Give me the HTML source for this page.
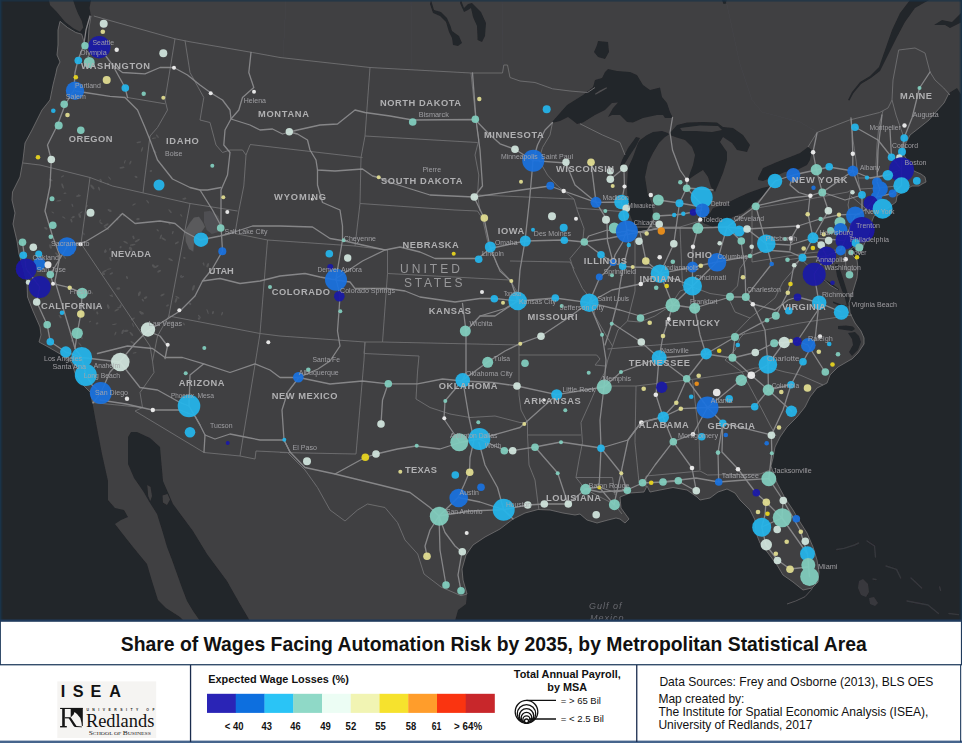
<!DOCTYPE html>
<html><head><meta charset="utf-8"><title>Share of Wages Facing Automation Risk by 2035</title>
<style>
html,body{margin:0;padding:0;background:#fff}
body{width:962px;height:743px;overflow:hidden}
svg{display:block;font-family:"Liberation Sans",sans-serif}
.st{font-weight:bold;fill:#b0b0b2;font-size:9.3px}
.ct{fill:#a6a6aa;font-size:7.3px;opacity:.92}
.b{font-weight:bold}
</style></head><body>
<svg width="962" height="743" viewBox="0 0 962 743">
<defs><clipPath id="mc"><rect x="0" y="0" width="962" height="621"/></clipPath><filter id="sf" x="0" y="0" width="962" height="621" filterUnits="userSpaceOnUse"><feGaussianBlur stdDeviation="0.5"/></filter></defs>
<rect x="0" y="0" width="962" height="743" fill="#fff"/>
<g clip-path="url(#mc)"><rect x="0" y="0" width="962" height="621" fill="#232529"/><polygon points="91,0 962,0 962,96 957,88 949,93 944,103 935,113 929,120 919,128 910,135 905,145 904,155 909,163 914,171 921,174 925,177 926,182 922,184 919,186 912,186 905,190 897,196 896,202 888,208 878,213 874,216 872,221 869,232 866,240 863,247 860,254 857,252 854,247 851,249 853,256 857,260 858,268 857,278 853,291 849,303 850,313 855,323 861,331 864,338 864,344 858,353 852,359 850,360 838,367 830,375 827,383 817,388 810,397 805,407 797,417 787,427 780,437 775,447 773,458 771,466 773,472 777,483 785,498 793,510 800,522 807,533 813,547 817,560 819,572 818,582 812,588 803,590 798,586 793,582 783,575 777,565 768,553 760,543 756,533 755,520 750,510 740,500 735,493 727,489 718,492 710,498 700,500 697,497 687,490 673,487.5 660,490 650,492 647,486 644,492 630,493 620,497 621,508 626,515 629,519 625,523 620,519 616,518 608,520 597,523 587,520 580,514 575,515 563,513 550,510 538,509.5 525,513 513,519 500,529 485,537 473,545 466,555 462,569 463,580 467,594 466,604 458,610 455,621 250,621 240,604 227,581 207,554 193,531 173,504 163,481 160,447 150,438 137,432 131,432 128,437 128,464 134,478 143,491 150,503 157,514 162,530 167,547 172,560 177,574 182,588 187,601 193,611 200,621 184,621 180,617 166,608 158,600 152,581 147,564 133,547 122,533 115,524 121,520 128,517 124,510 115,508 108,500 108,481 102,454 98,433 95,417 92.5,403 91,393 83,385 75,373 72,363 62,355 50,348 39,342 41,335 40,327 33,311 27.5,297 27,282 22,264 19,254 17,241 13,224 15,213 12,200 12.5,192 20,177 23,160 25,143 32,130 42,110 50,100 53,85 56,73 57,68 60,62 57,55 58,45 58,30 60,21.3 67.5,27.5 75.8,32.5 81.7,34.2 83.5,40 86,48 88,44 88.5,36 89,28 91,16 89.5,8" fill="#404042"/><g filter="url(#sf)">
<rect x="0" y="0" width="962" height="621" fill="#232529"/>
<g id="land">
<polygon points="91,0 962,0 962,96 957,88 949,93 944,103 935,113 929,120 919,128 910,135 905,145 904,155 909,163 914,171 921,174 925,177 926,182 922,184 919,186 912,186 905,190 897,196 896,202 888,208 878,213 874,216 872,221 869,232 866,240 863,247 860,254 857,252 854,247 851,249 853,256 857,260 858,268 857,278 853,291 849,303 850,313 855,323 861,331 864,338 864,344 858,353 852,359 850,360 838,367 830,375 827,383 817,388 810,397 805,407 797,417 787,427 780,437 775,447 773,458 771,466 773,472 777,483 785,498 793,510 800,522 807,533 813,547 817,560 819,572 818,582 812,588 803,590 798,586 793,582 783,575 777,565 768,553 760,543 756,533 755,520 750,510 740,500 735,493 727,489 718,492 710,498 700,500 697,497 687,490 673,487.5 660,490 650,492 647,486 644,492 630,493 620,497 621,508 626,515 629,519 625,523 620,519 616,518 608,520 597,523 587,520 580,514 575,515 563,513 550,510 538,509.5 525,513 513,519 500,529 485,537 473,545 466,555 462,569 463,580 467,594 466,604 458,610 455,621 250,621 240,604 227,581 207,554 193,531 173,504 163,481 160,447 150,438 137,432 131,432 128,437 128,464 134,478 143,491 150,503 157,514 162,530 167,547 172,560 177,574 182,588 187,601 193,611 200,621 184,621 180,617 166,608 158,600 152,581 147,564 133,547 122,533 115,524 121,520 128,517 124,510 115,508 108,500 108,481 102,454 98,433 95,417 92.5,403 91,393 83,385 75,373 72,363 62,355 50,348 39,342 41,335 40,327 33,311 27.5,297 27,282 22,264 19,254 17,241 13,224 15,213 12,200 12.5,192 20,177 23,160 25,143 32,130 42,110 50,100 53,85 56,73 57,68 60,62 57,55 58,45 58,30 60,21.3 67.5,27.5 75.8,32.5 81.7,34.2 83.5,40 86,48 88,44 88.5,36 89,28 91,16 89.5,8" fill="#404042" />
<polygon points="49,0 50,5 56.7,11.7 65,21.7 73.3,28.3 80,31.7 83.3,27.5 81.7,20.8 78.3,14.2 75.8,8.3 73,0" fill="#404042" />
<polygon points="859,581 863,579 868,584 869,592 866,597 861,595 858,588" fill="#38393d" />
<polygon points="869,598 874,597 878,603 875,606 870,604" fill="#38393d" />
<g fill="none" stroke="#36383d" stroke-width="1.4" stroke-linecap="round" stroke-linejoin="round">
<polyline points="836.7,549.5 844,548.4 854.5,545 858.7,543"/>
<polyline points="867,541 874.5,546 875.5,557"/>
<polyline points="886,566 896.5,569.4 900.7,578"/>
<polyline points="911,578 921.7,588"/>
<polyline points="907,601 928,605 938.5,613.5"/>
<polyline points="939.6,587 940.6,590.4"/>
<polyline points="949,613.5 958.5,614.6"/>
<polyline points="873,579 876,579.5"/>
</g>
<polyline points="812.5,588.5 805,596.7 795.7,601 787,604" fill="none" stroke="#5a5a5d" stroke-width=".9"/>
</g><g id="water">
<polygon points="598,41 608,42 609,52 605,59 598,57 594,52 597,45" fill="#232529" />
<polygon points="552,122 567,105 583,95 593,87 595,80 602,78 605,72 608,69 617,71 630,72 637,75 643,85 650,90 660,87.5 662,97 667,103 670,112 673,118 665,118 663,115 657,115 643,118 633,122.5 627,122 620,115 612,115 608,117 613,108 618,102.5 612,103 605,110 595,115 583,122.5 577,124 572,120 568,117 560,121 552,123" fill="#232529" />
<polygon points="668,133 662,131 653,132 647,135 640,140 638,143 633,157 628,168 627,185 627.5,202 630,215 633.8,225 637,231 640.5,233.5 645.5,231.5 650,225 653,212.5 651.5,203 647.5,193 645,177 648,163 653,153 659,143 665,137 669,134.5" fill="#232529" />
<polygon points="640,138 636,137 628,148 622,160 620,166 624,165 630,155 636,146" fill="#232529" />
<polygon points="670,133 677,125 687,122.5 703,122 717,122.5 723,127 733,128 743,135 750,145 747,152 737,150 732,143 723,137 720,142 727,152 727,160 723,173 718,185 715,192 711,187 708,177 703,170 695,175 688,180 690,173 693,165 695,155 692,147 685,140 675,137 670,135" fill="#232529" />
<polygon points="702,218 710,213 713,208 723,205 737,198 748,193 762,188 771,186 767,192 755,203 747,210 743,213 733,217 720,225 713,227 703,223" fill="#232529" />
<polygon points="758,178 763,168 777,162 790,157 800,153 808,147 812,150 810,160 807,165 797,170 785,172 773,177 763,181 758,180" fill="#232529" />
<polygon points="461,0 464,8 468,4 472,3 481,12 486,23 485,36 482,42 477.6,40 477,26 473,17 471,8 468,10 464,12 460,3" fill="#232529" />
<polygon points="431,0 434,10 441,12 447,18 450.5,26 452,31 459,36 462,43 458,46 453,45 452,38 449,32 446,22 440,16 433,13 430,4" fill="#232529" />
<polygon points="910,0 900,13 892,30 885,50 879,67 870,76 860,82 852,92 848,100 849.5,100.5 853.5,93 861,84 871,78 880,71 882,67 889,53 897,37 905,22 915,8 929,0" fill="#232529" />
<polygon points="722,0 727,0 726.5,3.5 723.5,4" fill="#232529" />
<polygon points="962,12 952,22 942,20 934,25 945,25 950,28 962,22" fill="#232529" />
<polygon points="835,264 838,264 842,275 846,288 849,298 850.5,305 847,306.5 845,298 841,288 837,276" fill="#232529" />
<polygon points="822,280 830,285 838,291 839,289 831,283 823,278.5" fill="#232529" />
<polygon points="833,303 840,306 846,307.5 846.5,305.5 840,304 833,301.5" fill="#232529" />
<polygon points="850,247 853,246 857,251 858,257 855,256 852,251" fill="#232529" />
<polygon points="838,326 846,325.5 853,326.5 855,329 852,331 845,330 838,329" fill="#232529" />
<polygon points="848,333 855,332 859,336 861,342 858,350 852,356 849,352 853,345 852,339" fill="#232529" />
<polygon points="680,128 700,125.5 718,126 722,130 712,132 695,131 682,131" fill="#404042" />
<polygon points="595,93.8 600,90.5 606.5,87.3 607,88.3 601,91.8 595.6,94.8" fill="#505052" />
<polygon points="147.3,485 150.5,487 152,496 150.3,501 148.2,496" fill="#404042" />
<polygon points="162.5,495.5 167.5,494 170,499.5 167,505 163,502.5" fill="#404042" />
</g>
<polygon points="185,230.8 190,222.5 194,217.5 199,216.7 203,222.5 205,226.7 201.7,231.7 197,233.5 195,234 194,241.7 193.3,251.7 189,249 185.8,241.7 185,232.5" fill="#5a5a5c" />
<polygon points="204,211.7 210,210.8 218.3,215.8 220.8,222.5 219,231.7 211.7,234 206.7,230 204,222.5" fill="#4f4f52" />
<g fill="#555557">
<ellipse cx="124.1" cy="215.4" rx="1.0" ry="1.3" transform="rotate(60 124.1 215.4)"/>
<ellipse cx="103.5" cy="273.7" rx="1.1" ry="1.6" transform="rotate(-60 103.5 273.7)"/>
<ellipse cx="134.0" cy="204.4" rx="0.7" ry="2.0" transform="rotate(60 134.0 204.4)"/>
<ellipse cx="106.1" cy="225.1" rx="1.0" ry="2.9" transform="rotate(60 106.1 225.1)"/>
<ellipse cx="147.7" cy="201.7" rx="0.7" ry="2.2" transform="rotate(-40 147.7 201.7)"/>
<ellipse cx="121.1" cy="214.5" rx="0.7" ry="1.8" transform="rotate(80 121.1 214.5)"/>
<ellipse cx="111.3" cy="273.5" rx="1.0" ry="1.9" transform="rotate(60 111.3 273.5)"/>
<ellipse cx="159.1" cy="271.2" rx="1.0" ry="2.1" transform="rotate(60 159.1 271.2)"/>
<ellipse cx="133.5" cy="237.4" rx="1.0" ry="2.0" transform="rotate(-20 133.5 237.4)"/>
<ellipse cx="117.4" cy="219.3" rx="1.1" ry="1.3" transform="rotate(-20 117.4 219.3)"/>
<ellipse cx="142.3" cy="313.1" rx="1.0" ry="1.7" transform="rotate(-60 142.3 313.1)"/>
<ellipse cx="105.6" cy="251.4" rx="1.1" ry="1.5" transform="rotate(20 105.6 251.4)"/>
<ellipse cx="133.0" cy="324.9" rx="0.6" ry="2.2" transform="rotate(-20 133.0 324.9)"/>
<ellipse cx="125.6" cy="242.3" rx="0.9" ry="2.6" transform="rotate(-60 125.6 242.3)"/>
<ellipse cx="170.6" cy="322.5" rx="0.9" ry="2.4" transform="rotate(-60 170.6 322.5)"/>
<ellipse cx="160.8" cy="236.8" rx="0.9" ry="2.4" transform="rotate(20 160.8 236.8)"/>
<ellipse cx="120.6" cy="247.1" rx="1.0" ry="1.2" transform="rotate(20 120.6 247.1)"/>
<ellipse cx="127.0" cy="277.5" rx="0.9" ry="1.6" transform="rotate(-20 127.0 277.5)"/>
<ellipse cx="106.6" cy="228.4" rx="0.8" ry="2.8" transform="rotate(-60 106.6 228.4)"/>
<ellipse cx="110.0" cy="249.2" rx="0.8" ry="1.4" transform="rotate(20 110.0 249.2)"/>
<ellipse cx="172.8" cy="232.6" rx="0.8" ry="1.8" transform="rotate(20 172.8 232.6)"/>
<ellipse cx="181.2" cy="215.4" rx="0.7" ry="1.6" transform="rotate(-40 181.2 215.4)"/>
<ellipse cx="96.1" cy="307.2" rx="0.7" ry="1.7" transform="rotate(-40 96.1 307.2)"/>
<ellipse cx="132.7" cy="244.8" rx="0.9" ry="2.9" transform="rotate(80 132.7 244.8)"/>
<ellipse cx="172.3" cy="323.3" rx="1.0" ry="2.5" transform="rotate(20 172.3 323.3)"/>
<ellipse cx="176.0" cy="300.3" rx="1.1" ry="2.6" transform="rotate(20 176.0 300.3)"/>
<ellipse cx="130.8" cy="248.2" rx="0.9" ry="1.9" transform="rotate(-40 130.8 248.2)"/>
<ellipse cx="101.1" cy="223.2" rx="0.7" ry="1.8" transform="rotate(-60 101.1 223.2)"/>
<ellipse cx="104.2" cy="271.5" rx="0.9" ry="2.9" transform="rotate(60 104.2 271.5)"/>
<ellipse cx="97.3" cy="313.0" rx="1.0" ry="1.5" transform="rotate(-20 97.3 313.0)"/>
<ellipse cx="181.0" cy="276.3" rx="0.9" ry="1.4" transform="rotate(20 181.0 276.3)"/>
<ellipse cx="184.4" cy="257.9" rx="0.9" ry="1.4" transform="rotate(-60 184.4 257.9)"/>
<ellipse cx="162.5" cy="294.9" rx="0.9" ry="2.4" transform="rotate(60 162.5 294.9)"/>
<ellipse cx="97.1" cy="323.4" rx="0.9" ry="1.5" transform="rotate(60 97.1 323.4)"/>
<ellipse cx="177.3" cy="297.3" rx="0.8" ry="2.4" transform="rotate(-60 177.3 297.3)"/>
<ellipse cx="157.7" cy="230.3" rx="0.8" ry="1.5" transform="rotate(-40 157.7 230.3)"/>
<ellipse cx="142.9" cy="300.2" rx="0.8" ry="1.6" transform="rotate(-40 142.9 300.2)"/>
<ellipse cx="167.5" cy="305.5" rx="1.0" ry="1.6" transform="rotate(60 167.5 305.5)"/>
<ellipse cx="139.4" cy="293.7" rx="1.2" ry="2.6" transform="rotate(20 139.4 293.7)"/>
<ellipse cx="118.3" cy="288.5" rx="1.2" ry="2.0" transform="rotate(80 118.3 288.5)"/>
<ellipse cx="183.9" cy="323.9" rx="0.8" ry="1.6" transform="rotate(-40 183.9 323.9)"/>
<ellipse cx="137.3" cy="240.6" rx="0.9" ry="3.0" transform="rotate(60 137.3 240.6)"/>
<ellipse cx="170.6" cy="259.7" rx="1.0" ry="2.6" transform="rotate(-60 170.6 259.7)"/>
<ellipse cx="170.1" cy="211.2" rx="0.8" ry="2.5" transform="rotate(-40 170.1 211.2)"/>
<ellipse cx="138.0" cy="219.1" rx="1.1" ry="1.8" transform="rotate(80 138.0 219.1)"/>
<ellipse cx="130.6" cy="249.2" rx="1.2" ry="2.5" transform="rotate(-40 130.6 249.2)"/>
<ellipse cx="184.4" cy="198.7" rx="1.0" ry="2.0" transform="rotate(80 184.4 198.7)"/>
<ellipse cx="108.2" cy="306.6" rx="1.2" ry="2.4" transform="rotate(-20 108.2 306.6)"/>
<ellipse cx="109.0" cy="269.0" rx="0.6" ry="2.6" transform="rotate(80 109.0 269.0)"/>
<ellipse cx="153.5" cy="266.1" rx="1.2" ry="2.0" transform="rotate(-40 153.5 266.1)"/>
<ellipse cx="169.4" cy="223.5" rx="0.8" ry="1.7" transform="rotate(-40 169.4 223.5)"/>
<ellipse cx="163.7" cy="239.0" rx="0.9" ry="2.7" transform="rotate(-60 163.7 239.0)"/>
<ellipse cx="176.9" cy="242.8" rx="0.9" ry="2.3" transform="rotate(60 176.9 242.8)"/>
<ellipse cx="132.9" cy="318.9" rx="0.9" ry="2.2" transform="rotate(60 132.9 318.9)"/>
<ellipse cx="140.9" cy="312.8" rx="1.1" ry="2.3" transform="rotate(-40 140.9 312.8)"/>
<ellipse cx="110.5" cy="258.9" rx="1.0" ry="2.2" transform="rotate(-20 110.5 258.9)"/>
<ellipse cx="156.4" cy="266.6" rx="0.9" ry="2.6" transform="rotate(60 156.4 266.6)"/>
<ellipse cx="100.1" cy="220.8" rx="0.6" ry="1.4" transform="rotate(20 100.1 220.8)"/>
<ellipse cx="145.6" cy="297.6" rx="1.1" ry="2.0" transform="rotate(60 145.6 297.6)"/>
<ellipse cx="182.6" cy="276.8" rx="0.7" ry="1.7" transform="rotate(60 182.6 276.8)"/>
<ellipse cx="79.7" cy="215.6" rx="1.2" ry="2.5" transform="rotate(-20 79.7 215.6)"/>
<ellipse cx="105.0" cy="250.9" rx="0.7" ry="2.0" transform="rotate(20 105.0 250.9)"/>
<ellipse cx="52.9" cy="212.6" rx="0.6" ry="1.6" transform="rotate(-60 52.9 212.6)"/>
<ellipse cx="58.8" cy="200.7" rx="0.7" ry="2.6" transform="rotate(80 58.8 200.7)"/>
<ellipse cx="86.8" cy="206.1" rx="0.8" ry="1.4" transform="rotate(20 86.8 206.1)"/>
<ellipse cx="59.3" cy="256.0" rx="0.8" ry="2.1" transform="rotate(80 59.3 256.0)"/>
<ellipse cx="99.1" cy="188.7" rx="0.9" ry="2.1" transform="rotate(-20 99.1 188.7)"/>
<ellipse cx="72.4" cy="205.3" rx="0.7" ry="1.9" transform="rotate(-20 72.4 205.3)"/>
<ellipse cx="81.0" cy="212.4" rx="0.6" ry="1.8" transform="rotate(60 81.0 212.4)"/>
<ellipse cx="64.2" cy="256.7" rx="0.7" ry="2.9" transform="rotate(-40 64.2 256.7)"/>
<ellipse cx="108.2" cy="183.9" rx="0.8" ry="1.3" transform="rotate(-40 108.2 183.9)"/>
<ellipse cx="62.6" cy="186.0" rx="0.9" ry="2.8" transform="rotate(-20 62.6 186.0)"/>
<ellipse cx="71.4" cy="220.6" rx="0.9" ry="2.1" transform="rotate(-20 71.4 220.6)"/>
<ellipse cx="50.8" cy="179.9" rx="1.0" ry="2.0" transform="rotate(-60 50.8 179.9)"/>
<ellipse cx="62.5" cy="176.4" rx="0.7" ry="1.7" transform="rotate(60 62.5 176.4)"/>
<ellipse cx="100.7" cy="180.7" rx="1.1" ry="2.0" transform="rotate(-20 100.7 180.7)"/>
<ellipse cx="109.6" cy="210.5" rx="1.1" ry="2.3" transform="rotate(-60 109.6 210.5)"/>
<ellipse cx="79.2" cy="195.3" rx="0.7" ry="1.5" transform="rotate(-60 79.2 195.3)"/>
<ellipse cx="56.8" cy="254.2" rx="1.0" ry="2.2" transform="rotate(-40 56.8 254.2)"/>
<ellipse cx="63.8" cy="217.5" rx="0.7" ry="1.8" transform="rotate(-60 63.8 217.5)"/>
<ellipse cx="109.6" cy="178.1" rx="0.6" ry="2.1" transform="rotate(-40 109.6 178.1)"/>
<ellipse cx="78.4" cy="195.9" rx="0.9" ry="2.4" transform="rotate(80 78.4 195.9)"/>
<ellipse cx="73.1" cy="217.1" rx="1.1" ry="1.9" transform="rotate(60 73.1 217.1)"/>
<ellipse cx="65.0" cy="193.3" rx="0.7" ry="1.6" transform="rotate(80 65.0 193.3)"/>
<ellipse cx="92.4" cy="186.9" rx="1.2" ry="3.0" transform="rotate(-40 92.4 186.9)"/>
<ellipse cx="45.9" cy="228.2" rx="1.1" ry="2.0" transform="rotate(-60 45.9 228.2)"/>
<ellipse cx="50.5" cy="246.5" rx="1.1" ry="2.4" transform="rotate(-20 50.5 246.5)"/>
<ellipse cx="83.9" cy="233.9" rx="0.6" ry="1.5" transform="rotate(-20 83.9 233.9)"/>
<ellipse cx="95.7" cy="308.4" rx="1.2" ry="3.0" transform="rotate(60 95.7 308.4)"/>
<ellipse cx="85.9" cy="292.4" rx="1.1" ry="1.6" transform="rotate(-40 85.9 292.4)"/>
<ellipse cx="60.1" cy="316.7" rx="0.9" ry="2.1" transform="rotate(-40 60.1 316.7)"/>
<ellipse cx="79.9" cy="344.3" rx="0.7" ry="2.7" transform="rotate(-40 79.9 344.3)"/>
<ellipse cx="92.0" cy="292.9" rx="0.6" ry="1.7" transform="rotate(-40 92.0 292.9)"/>
<ellipse cx="66.8" cy="357.0" rx="1.1" ry="1.5" transform="rotate(80 66.8 357.0)"/>
<ellipse cx="122.7" cy="331.8" rx="1.1" ry="2.5" transform="rotate(20 122.7 331.8)"/>
<ellipse cx="72.0" cy="340.7" rx="1.0" ry="1.3" transform="rotate(80 72.0 340.7)"/>
<ellipse cx="131.4" cy="333.9" rx="1.0" ry="2.7" transform="rotate(-40 131.4 333.9)"/>
<ellipse cx="132.8" cy="342.7" rx="0.9" ry="2.7" transform="rotate(-60 132.8 342.7)"/>
<ellipse cx="126.1" cy="330.9" rx="1.1" ry="2.4" transform="rotate(80 126.1 330.9)"/>
<ellipse cx="111.4" cy="296.0" rx="0.6" ry="2.3" transform="rotate(-60 111.4 296.0)"/>
<ellipse cx="90.1" cy="321.6" rx="0.6" ry="1.2" transform="rotate(60 90.1 321.6)"/>
<ellipse cx="114.5" cy="324.3" rx="0.6" ry="2.6" transform="rotate(80 114.5 324.3)"/>
<ellipse cx="134.6" cy="352.9" rx="0.7" ry="2.1" transform="rotate(80 134.6 352.9)"/>
<ellipse cx="118.9" cy="307.7" rx="0.6" ry="1.7" transform="rotate(80 118.9 307.7)"/>
<ellipse cx="120.5" cy="306.2" rx="1.0" ry="2.0" transform="rotate(20 120.5 306.2)"/>
<ellipse cx="66.1" cy="353.7" rx="0.8" ry="1.3" transform="rotate(80 66.1 353.7)"/>
<ellipse cx="111.4" cy="295.4" rx="0.7" ry="1.7" transform="rotate(80 111.4 295.4)"/>
<ellipse cx="115.4" cy="333.5" rx="0.7" ry="2.1" transform="rotate(20 115.4 333.5)"/>
<ellipse cx="81.5" cy="337.0" rx="1.0" ry="2.4" transform="rotate(-20 81.5 337.0)"/>
<ellipse cx="116.7" cy="310.0" rx="0.9" ry="2.6" transform="rotate(60 116.7 310.0)"/>
<ellipse cx="199.0" cy="318.6" rx="1.2" ry="1.2" transform="rotate(20 199.0 318.6)"/>
<ellipse cx="193.4" cy="287.9" rx="1.2" ry="3.0" transform="rotate(20 193.4 287.9)"/>
<ellipse cx="199.4" cy="316.5" rx="0.7" ry="2.2" transform="rotate(-40 199.4 316.5)"/>
<ellipse cx="223.6" cy="272.0" rx="0.8" ry="2.3" transform="rotate(80 223.6 272.0)"/>
<ellipse cx="212.9" cy="312.6" rx="1.0" ry="1.6" transform="rotate(20 212.9 312.6)"/>
<ellipse cx="207.7" cy="265.3" rx="1.2" ry="2.4" transform="rotate(20 207.7 265.3)"/>
<ellipse cx="203.6" cy="264.1" rx="0.8" ry="1.8" transform="rotate(-20 203.6 264.1)"/>
<ellipse cx="190.1" cy="303.8" rx="1.1" ry="1.4" transform="rotate(-40 190.1 303.8)"/>
<ellipse cx="222.1" cy="313.6" rx="0.8" ry="1.9" transform="rotate(20 222.1 313.6)"/>
<ellipse cx="207.6" cy="311.5" rx="0.6" ry="2.9" transform="rotate(-20 207.6 311.5)"/>
<ellipse cx="154.2" cy="138.2" rx="0.6" ry="2.4" transform="rotate(80 154.2 138.2)"/>
<ellipse cx="157.4" cy="136.2" rx="0.8" ry="2.1" transform="rotate(-40 157.4 136.2)"/>
<ellipse cx="150.9" cy="171.0" rx="0.9" ry="1.3" transform="rotate(80 150.9 171.0)"/>
<ellipse cx="136.0" cy="176.9" rx="0.9" ry="1.6" transform="rotate(-60 136.0 176.9)"/>
<ellipse cx="122.0" cy="167.6" rx="0.9" ry="2.6" transform="rotate(80 122.0 167.6)"/>
<ellipse cx="154.8" cy="151.6" rx="1.1" ry="2.2" transform="rotate(-40 154.8 151.6)"/>
<ellipse cx="138.9" cy="142.3" rx="0.8" ry="2.5" transform="rotate(80 138.9 142.3)"/>
<ellipse cx="130.4" cy="162.6" rx="0.8" ry="2.2" transform="rotate(20 130.4 162.6)"/>
<ellipse cx="124.8" cy="161.8" rx="0.6" ry="2.1" transform="rotate(20 124.8 161.8)"/>
<ellipse cx="142.0" cy="149.4" rx="0.8" ry="2.6" transform="rotate(20 142.0 149.4)"/>
</g>
<g fill="none" stroke="#737375" stroke-width=".8" stroke-linejoin="round">
<polyline points="949,93 944,103 935,113 929,120 919,128 910,135 905,145 904,155 909,163 914,171 921,174 925,177 926,182 922,184 919,186 912,186 905,190 897,196 896,202 888,208 878,213 874,216 872,221 869,232 866,240 863,247 860,254 857,252 854,247 851,249 853,256 857,260 858,268 857,278 853,291 849,303 850,313 855,323 861,331 864,338 864,344 858,353 852,359 850,360 838,367 830,375 827,383 817,388 810,397 805,407 797,417 787,427 780,437 775,447 773,458 771,466 773,472 777,483 785,498 793,510 800,522 807,533 813,547 817,560 819,572 818,582 812,588 803,590 798,586 793,582 783,575 777,565 768,553 760,543 756,533 755,520 750,510 740,500 735,493 727,489 718,492 710,498 700,500 697,497 687,490 673,487.5 660,490 650,492 647,486 644,492 630,493 620,497 621,508 626,515 629,519 625,523 620,519 616,518 608,520 597,523 587,520 580,514 575,515 563,513 550,510 538,509.5 525,513 513,519 500,529 485,537 473,545 466,555 462,569 463,580 467,594"/>
<polyline points="92.5,403 91,393 83,385 75,373 72,363 62,355 50,348 39,342 41,335 40,327 33,311 27.5,297 27,282 22,264 19,254 17,241 13,224 15,213 12,200 12.5,192 20,177 23,160 25,143 32,130 42,110 50,100 53,85 56,73 57,68 60,62 57,55 58,45 58,30 60,21.3"/>
<polyline points="60,21.3 67.5,27.5 75.8,32.5 81.7,34.2 83.5,40 86,48 88,44 88.5,36 89,28 91,16"/>
</g>
<g id="faint" fill="none" stroke="#454547" stroke-width=".7">
<polyline points="286,0 283,58"/>
<polyline points="411,0 412,70"/>
<polyline points="502,0 503,65"/>
<polyline points="726,0 739.5,62.5 752,100 762,112 800,122 817,132"/>
</g>
<g id="borders" fill="none" stroke="#6e6e70" stroke-width=".95" stroke-linejoin="round">
<polyline points="93.8,16 175,38.8 190,41.8 252.5,52.5 280,57.5 370,67.5 471,73 502.5,73 503.8,65 507.5,65 510,77.5 520,81 535,82.5 552.5,88.8 570,91 587.5,92.5 595,87.5"/>
<polyline points="175,38.8 165,100 167.5,110 157.5,127.5 150,136 143.8,186 143,193"/>
<polyline points="185,40.5 190,72.5 203.8,97.5 200,120 210,122.5 216,145 222.5,152.5 230,150 242.5,150 246,155 250,145"/>
<polyline points="246,155 243.8,186 238.8,211 235,233.5 267.5,240"/>
<polyline points="250,144.5 362.5,157.5"/>
<polyline points="127.5,97.5 165,103.8"/>
<polyline points="23,163 40,165 90,177.5 112.5,186 190,203.5 237.5,211"/>
<polyline points="90,177.5 81,243.5 150,346 152.5,361 154,372.5 140,392.5 142.5,407.5"/>
<polyline points="190,203.5 168.8,316"/>
<polyline points="168.8,316 260,333.5 280,336 365,342 382.5,342 520,345 521,346"/>
<polyline points="168.8,316 157.5,336 152.5,361"/>
<polyline points="267.5,240 260,333.5 253.8,372 240,456"/>
<polyline points="92.5,402.5 142.5,407.5 135,411 204,452.5 240,456 255,459 256,451 287.5,452.5"/>
<polyline points="287.5,452.5 305,470 317.5,487.5 330,510 345,521 357.5,510 367.5,504 385,507.5 397.5,522.5 405,540 417.7,554 424,574 441,587 461,595.7 467,594"/>
<polyline points="280,452.5 356,454 364,360 365,342"/>
<polyline points="370,67.5 365,136 361,157.5 360,203.5 355,246"/>
<polyline points="365,136 477.5,142.5"/>
<polyline points="471,73 473.8,100 476,120 478.8,140 475,155 478.8,175 477.5,195 480,211"/>
<polyline points="360,203.5 455,210 477.5,211 482.5,218.5"/>
<polyline points="267.5,240 355,246 387.5,250 387.5,273.5"/>
<polyline points="387.5,273.5 510,280"/>
<polyline points="387.5,273.5 382.5,342"/>
<polyline points="365,342 364,353.5 419,356 417.5,372 416,399 430,407.5 450,414 470,417.5 495,416 520,422.5 527.5,422.5"/>
<polyline points="482.5,218.5 487.5,241 497.5,266 510,280 516,290 519,301 519,345 519,395 521,410 527.5,422.5 527.5,435 529,465 535,480 537.5,500 539,510"/>
<polyline points="478,195 574,199"/>
<polyline points="510,261 570,262 574,268.5"/>
<polyline points="552.5,122.5 550,135 542.5,147.5 538.8,160 547.5,175 557.5,186 574,199"/>
<polyline points="580,123.8 602.5,135 620,142.5 625,155"/>
<polyline points="577,208 627,212"/>
<polyline points="574,199 577.5,211 584,228.5 582.5,243.5 570,258.5 574,271 582.5,288.5 592.5,301 595,316 605,333.5 612.5,346 607.5,361 605,372 597.5,385 590,402.5 581,422.5 582.5,442.5 579,460 576,477.5 585,489 600,497 614,504 622,514"/>
<polyline points="519,355 596.7,355 600,359 595,365 605,366"/>
<polyline points="527.5,435 581,435"/>
<polyline points="576,477.5 612.5,477.5 615,495"/>
<polyline points="635,233.5 635,291 630,311 627.5,321"/>
<polyline points="635,227 680,227 700,221"/>
<polyline points="680,227 682.5,286"/>
<polyline points="612.5,346 618,330 627.5,321 640,322 655,316 670,306 680,291 692.5,287 710,293.5 727.5,296 737.5,286 740,268.5 752.5,251 752,247"/>
<polyline points="607.5,349 635,346.7 670,344 706.7,340.5 735,336 760,331 800,323 852,315"/>
<polyline points="597.5,386 636,386 695,379 742,372"/>
<polyline points="636,386 635,442.5 639,482.5"/>
<polyline points="692.5,380 699,435 700,470"/>
<polyline points="646,487 646,476 700,471 707.5,475 760,474 770,470"/>
<polyline points="742,372 757,400 770,425 776,436"/>
<polyline points="742,372 755,368 770,368 785,372 800,375 823,385"/>
<polyline points="742,372 725,360 735,350 740,338 745,333"/>
<polyline points="735,333.5 750,318 760,310 775,298 783,282 795,268 800,258"/>
<polyline points="727.5,296 735,312 750,318"/>
<polyline points="787.5,259.8 800,258 815,272 830,285 838,290"/>
<polyline points="752,262 800,254 845,249 846,270 856,270"/>
<polyline points="752,205 752,262"/>
<polyline points="757,204 760,207.5 790,202.5 817.5,197.5 848,192 851,190 848,205 852,222 850,235 846,246"/>
<polyline points="851,196 865,208"/>
<polyline points="808,147 817,132.5 849.5,120 879.5,112.5 888,108 892,100 893,80 898.7,50 915,48 925,53 930,72 935,80 943.7,88 950,95"/>
<polyline points="892,100 896,115 903,135 906,148"/>
<polyline points="883,111 879,125 877,145 876,165 878,178"/>
<polyline points="851,119.5 853,140 856,160 858,178 862,200"/>
<polyline points="858,178 878,178 905,160"/>
<polyline points="860,189 878,188 897,186"/>
<polyline points="897,186 897,196"/>
</g>
<g id="roads" fill="none" stroke="#8e8e90" stroke-width="1.3" stroke-linejoin="round" stroke-linecap="round" opacity=".9">
<polyline points="90,16 86,30 83.8,45 78,60 75,72.5 74,90 65,105 57.5,125 47.5,145 51.3,160 50,186 45,211 52.5,236 60,256 55,281 62.5,306 70,331 75,348.5 81.7,357.5 85.8,375 92,385 100.8,393 93,403"/>
<polyline points="67,246.8 50.3,274.5 53,283.7 69.7,287.7 82.2,293.2 80.8,314 77.2,333.2 75,348.5"/>
<polyline points="22.5,242.3 26.2,269 39.7,287 36.7,302 47.2,324.8 50.3,341.8 65.8,352 81.7,357.5"/>
<polyline points="99.2,47.2 112.5,65 122.5,72.5 145,73.8 160,67.5 173.8,67.5 187.5,75 200,85 211,93 222.5,100 230,110 231,119 250,125 260,130 272.5,129 282.5,134 289.5,132 297.5,134 307.5,140 310,150 316,160 317.5,170 335,171 362.5,169 372.5,176 378.8,177.5 395,184 430,195 474,197 521,190 550,186 563.7,191 596,202.3"/>
<polyline points="112.5,65 125,87.5 127.5,97.5"/>
<polyline points="75,90.8 85,92.5 110,96.3 125,97.5 137.5,110 145,127.5 150,140 157.5,160 172.5,179 190,187.5 200,190 212.5,210 221,226"/>
<polyline points="200,190 207.5,190 221,187.5"/>
<polyline points="251,52.5 248.8,72.5 253.8,87.5 242.5,97.5 238.8,110 231,119 225,130 223.8,145 230,152.5 227.5,175 221,190 221,215 221,226 222.5,251 212.5,268.5 202.5,281 195,296 180,311 160,323.5 147.5,331 135,343.5 122.5,358.5 110,372 100.8,393"/>
<polyline points="289.5,132 297.5,130 320,125 337.5,124 355,110 365,112.5 390,116 412.5,120 475,119.5 487.5,132.5 500,143.8 515,149.3 533,160.7 566,163 575,185 596,202.3 621.5,202 624,216 627,230"/>
<polyline points="317.5,170 317.5,185 322.5,202.5 340,210 342.5,226 342.5,240 336,278.5 340,296 339,311 337.5,331 340,346 330,361 318,369 298.8,377.5 287.5,392.5 282,410 284,440 290,452"/>
<polyline points="66,246 85,242 107.5,228.5 122.5,213.5 135,223.5 160,221 175,223.5 185,232 200,240 220,236 230,233.5 252.5,226 280,226 312.5,227 330,238.5 345,241 362.5,245 385,250 400,247 420,252 435,258.5 478,258.5 490,248.5 525,241 564,240 584,242 610,238 630,234 660,228 698,228 727,227 747,229 798,226 820,219 839,214.8 860,214"/>
<polyline points="336,278.5 362.5,261 385,250"/>
<polyline points="202.5,281 220,278.5 240,283.5 260,281 280,276 305,273.5 320,277 336,280 350,282 355,288.5 387.5,288.5 405,291 420,297 455,302 480,298.5 495,298.5 517.7,301 555,298 589,302.7 612,290 640,284 660,273.7 692.5,267 717,262 750,256 766,250 790,252 802.5,257.7 826.7,256"/>
<polyline points="97.5,353.5 127.5,346 152.5,348.5 165,357.5 182.5,357.5 203.8,363.8 230,372.5 255,363.8 270,370 280,377.5 298.8,377.5 330,384 362.5,381 388,383.8 417.5,383.8 442.5,379 462.5,381 492.5,382.5 517,386 556.7,394.7 604,387 621,372 659,358 706,354 732.5,358 755,352.5 774,343 784,342.5 797,341.5 808,345 825,372"/>
<polyline points="147.5,331 160,336 167.5,346 165,358.5"/>
<polyline points="81.7,357.5 120,362 140,387.5 157.5,390 180,402.5 189,406 200,425 205,435 215,439 230,434 247.5,437.5 260,440 284,440 290,452 305,467.5 335,474 380,485 410,492.5 430,507.5 439,516 470,511 503.7,509.7 527.7,505 544,504 568,504 585.6,489 600,492 627,490 642.5,483 663,482 696,478 718.7,482 745,480 768.8,478.7"/>
<polyline points="100,400 126,404 152.5,410 180,410 195,416 200,425"/>
<polyline points="189,406 190,375 203.8,363.8"/>
<polyline points="205,435 204,452"/>
<polyline points="335,474 365,457.5 376,454 397.5,449 416,446 440,449 460,442.5 479,439 504,450 512.7,450.7 535,447 561,442 601,448 628,440 641,422.5 663,417 680.8,408.7 707.5,407.5 754.7,406.7 768.4,390 791,384.7"/>
<polyline points="388,384 382.5,400 381,424"/>
<polyline points="552.5,122.5 545,130 537.5,145 533,160.7 530,195 525,241 520,270 517.7,301 495,316 480,316 466,331 466,372 462.7,380 469,417.5 474,440 470,457.5 469.5,472 464,485 458,497.5 439,516 430,530 425,546 427,556"/>
<polyline points="466,331 462.5,303.5"/>
<polyline points="480,316 505,308.5 517.7,301"/>
<polyline points="472.5,73 476,120 480,150 482.5,186 474,197 484,218 490,247 500,271 511,281 517.7,301"/>
<polyline points="589,302.7 565,320 541,336 520,343.7 505,351 487.7,362 462.7,380 445,401 444,419 460,442.5"/>
<polyline points="479,439 520,427.5 524,424 556.7,394.7"/>
<polyline points="479,442.5 485,465 497.5,487.5 503.7,509.7 513,519"/>
<polyline points="439,516 445,532.5 455,546 462,552 458,575 461,590.7"/>
<polyline points="439,516 440,550 446,585"/>
<polyline points="458,497.5 480,502 503.7,509.7"/>
<polyline points="627,230 622.5,242.5 615,255 613.1,262.5 603.8,273.8 600,277 589,302.7 602,334 606,360 604,387 600,420 601,448 600,470 599,487 614,504.7"/>
<polyline points="627,232 628.8,245 625,260 623.1,266.3 620,285 618,300 612,323 605,345"/>
<polyline points="640,232 646,261 660,273 672.8,305 668.7,319 663,336 659,358 656,395 663,417 673,441.7 655,465 642.5,483"/>
<polyline points="589,302.7 620,310 640,316 672.8,305 694.7,308 730,297 745.8,297 752.8,304 775,310 788,300 797.5,297 819,302.7 841,312"/>
<polyline points="672.5,117.5 670,132.5 672.5,150 680,170 687,180 686.7,188 702,205 698,228 693,247 692.5,267 692.5,286 694.7,308 700,335 706,354 686.7,379 707.5,407.5 722.8,423 722,452 738,469 750,485 756,493 766,502 765,515 761.7,527 766,545 777.5,560 790,569 808,567"/>
<polyline points="672.8,305 692.5,286 717,262 727,227"/>
<polyline points="584,242 601,254.7 613.1,262.5 623.1,266.3 632.7,267 650,267.5 660,273.7 692.5,286"/>
<polyline points="660,273.7 673.8,243.7 679.5,203 686.7,188 713,190"/>
<polyline points="627,230 646,233 656,216 674,215 683,214 693,212 702,210"/>
<polyline points="658.3,200 679.5,203 702,207"/>
<polyline points="591,162.3 596,202.3 606.9,219.6 607.5,241 613.1,262.5"/>
<polyline points="626.9,231.4 616,232.5 607.5,230 588.8,236 584.4,242.3"/>
<polyline points="621.5,202 624.5,186.5 623.9,168.3 610.3,179.3"/>
<polyline points="686.7,379 676,403 663,417 641,422.5 628,440 621,473 614,504.7"/>
<polyline points="673,441.7 693,434 707.5,407.5 741,380 751,375 768,364.5 784,342.5 797,341.5 818,310 819,302.7"/>
<polyline points="809.5,576.7 807.5,554 800,530 783,500 768.8,478.7 771.8,453 771.4,435 783,410 791,384.7 803,361.7 815,340 819,302.7 814,274 826.7,256 840.7,250 844.7,240.5 855,215.8 865,210 876.5,196.8 892.6,193.5 901.5,185.5 901.5,169.7 902,151.8 904,138 912,118 919.5,88 930,72"/>
<polyline points="706,354 735,337 767,320 775.8,315.7 787.8,292.7 790.5,284 794,265 802.5,257.7 813,237.8 828.4,210.8 822.3,192.4 816.4,169.7 813,152 817,133"/>
<polyline points="727,227 741,241 745,270 745.8,297 752.8,304 765,330 768,364.5 768.4,390"/>
<polyline points="735,337 732.5,358 751,375 768.4,390 791.4,411"/>
<polyline points="722.8,423 771.4,435"/>
<polyline points="761.7,527 782,518 783,500"/>
<polyline points="766,502 782,518 807.5,554"/>
<polyline points="535,447 557.7,473 568,504"/>
<polyline points="585.6,489 599,487 614,492 627,490"/>
<polyline points="627,230 640,232 660,228"/>
<polyline points="727,227 755.8,206 775,181 793,175 816,170 829,167 853,171 870,178 888,175 900,170"/>
<polyline points="755.8,206 766,243.7 771.7,264 745.8,297"/>
<polyline points="747,229 766,243.7 790,245 813,237.8 844.7,240.5"/>
<polyline points="793,175 790,185 798.8,192.5 810,195.8"/>
<polyline points="798,226.5 791.3,238.1 790,250"/>
<polyline points="755.8,206 790,198 810,195.8 822,192 845,200 862,195"/>
<polyline points="862,213 862,195 852.8,171 852.8,153.8 852,130 851,118"/>
<polyline points="876.5,197 880,189 877,182 878,150 882,115"/>
<polyline points="891.5,157 878,140 855,127"/>
<polyline points="901.5,169.7 891.5,157 890,130"/>
<polyline points="826.7,256 821,245 813,237.8 808,214 810,196"/>
<polyline points="822.3,192.4 852.8,171"/>
<polyline points="612,323 641,342 659,358 686.7,379"/>
<polyline points="601,448 621,473 627,490"/>
<polyline points="673,441.7 692,468 696.3,490.8"/>
<polyline points="722.8,423 718,452.6 718.7,482"/>
<polyline points="663,482 678,481 696,491"/>
</g>
<g id="circles" opacity="0.93">
<circle cx="103.7" cy="23.8" r="4" fill="#d2e6de"/>
<circle cx="102.8" cy="31.7" r="2.3" fill="#e3df92"/>
<circle cx="99.2" cy="47.2" r="11.2" fill="#1a18a8"/>
<circle cx="85" cy="45.8" r="3.7" fill="#82cfbf"/>
<circle cx="116.7" cy="49.7" r="2.2" fill="#f2f2f2"/>
<circle cx="78.3" cy="60.5" r="3.8" fill="#25b6ec"/>
<circle cx="89.2" cy="62.5" r="5.5" fill="#82cfbf"/>
<circle cx="75.8" cy="77.2" r="2.3" fill="#ead71f"/>
<circle cx="106.7" cy="80" r="4" fill="#e3df92"/>
<circle cx="75" cy="90.8" r="9.2" fill="#1a72e0"/>
<circle cx="125.3" cy="88" r="3.8" fill="#25b6ec"/>
<circle cx="143.7" cy="93.7" r="2.2" fill="#82cfbf"/>
<circle cx="64.2" cy="104.2" r="3.8" fill="#82cfbf"/>
<circle cx="53.3" cy="110.8" r="2.3" fill="#25b6ec"/>
<circle cx="67.5" cy="115" r="2.3" fill="#e3df92"/>
<circle cx="58.7" cy="125.5" r="4" fill="#82cfbf"/>
<circle cx="163.3" cy="53.3" r="4" fill="#d2e6de"/>
<circle cx="174" cy="67.7" r="2" fill="#f2f2f2"/>
<circle cx="210.7" cy="93.3" r="2" fill="#f2f2f2"/>
<circle cx="254" cy="91.7" r="2" fill="#f2f2f2"/>
<circle cx="289.3" cy="131.7" r="3.7" fill="#d2e6de"/>
<circle cx="163.3" cy="97.7" r="2" fill="#e3df92"/>
<circle cx="80.8" cy="130.3" r="3.8" fill="#82cfbf"/>
<circle cx="38" cy="157.2" r="2.3" fill="#ead71f"/>
<circle cx="51.3" cy="159.5" r="3.8" fill="#d2e6de"/>
<circle cx="159" cy="185" r="5.5" fill="#25b6ec"/>
<circle cx="212.3" cy="165.7" r="2" fill="#82cfbf"/>
<circle cx="223.3" cy="197.3" r="2" fill="#e3df92"/>
<circle cx="52" cy="198.8" r="2.5" fill="#82cfbf"/>
<circle cx="312.3" cy="199" r="1.5" fill="#f2f2f2"/>
<circle cx="90.5" cy="212.8" r="4" fill="#d2e6de"/>
<circle cx="52.8" cy="225.3" r="3.8" fill="#82cfbf"/>
<circle cx="50.8" cy="236.8" r="2.3" fill="#82cfbf"/>
<circle cx="22.5" cy="242.3" r="3.8" fill="#82cfbf"/>
<circle cx="33.3" cy="247.3" r="3.8" fill="#d2e6de"/>
<circle cx="67" cy="246.8" r="9.5" fill="#1a72e0"/>
<circle cx="80.5" cy="244.3" r="2" fill="#f2f2f2"/>
<circle cx="23.3" cy="255.2" r="3.8" fill="#25b6ec"/>
<circle cx="38.7" cy="254" r="3.5" fill="#25b6ec"/>
<circle cx="39.2" cy="264" r="6.5" fill="#1a72e0"/>
<circle cx="48" cy="264.8" r="3.5" fill="#f2f2f2"/>
<circle cx="26.2" cy="269" r="10.5" fill="#1a18a8"/>
<circle cx="50.3" cy="274.5" r="3.8" fill="#82cfbf"/>
<circle cx="28.3" cy="282.3" r="2.5" fill="#d2e6de"/>
<circle cx="39.7" cy="287" r="11" fill="#1a18a8"/>
<circle cx="53" cy="283.7" r="2" fill="#f2f2f2"/>
<circle cx="69.7" cy="287.7" r="2.2" fill="#e3df92"/>
<circle cx="82.2" cy="293.2" r="5.5" fill="#82cfbf"/>
<circle cx="36.7" cy="302" r="3.8" fill="#d2e6de"/>
<circle cx="62" cy="312.8" r="2.3" fill="#25b6ec"/>
<circle cx="80.8" cy="314" r="3.8" fill="#e3df92"/>
<circle cx="47.2" cy="324.8" r="3.8" fill="#82cfbf"/>
<circle cx="77.2" cy="333.2" r="5.7" fill="#82cfbf"/>
<circle cx="50.3" cy="341.8" r="3.8" fill="#25b6ec"/>
<circle cx="148" cy="329.5" r="7.2" fill="#d2e6de"/>
<circle cx="65.8" cy="352" r="5.7" fill="#25b6ec"/>
<circle cx="81.7" cy="357.5" r="10.5" fill="#25b6ec"/>
<circle cx="120.3" cy="362" r="9.3" fill="#d2e6de"/>
<circle cx="85.8" cy="375" r="11" fill="#25b6ec"/>
<circle cx="100.8" cy="393" r="11" fill="#1a72e0"/>
<circle cx="127" cy="398.7" r="2.2" fill="#f2f2f2"/>
<circle cx="152.8" cy="410" r="2.2" fill="#f2f2f2"/>
<circle cx="201" cy="239.7" r="7.3" fill="#25b6ec"/>
<circle cx="220.7" cy="228" r="3.8" fill="#82cfbf"/>
<circle cx="227.3" cy="212" r="2" fill="#f2f2f2"/>
<circle cx="222.3" cy="251.3" r="4" fill="#1a72e0"/>
<circle cx="179.3" cy="310.3" r="2" fill="#f2f2f2"/>
<circle cx="270" cy="287" r="2" fill="#82cfbf"/>
<circle cx="167.7" cy="344.7" r="2" fill="#f2f2f2"/>
<circle cx="204.3" cy="348" r="2" fill="#82cfbf"/>
<circle cx="268.3" cy="342.3" r="2" fill="#f2f2f2"/>
<circle cx="185.7" cy="373.3" r="2" fill="#82cfbf"/>
<circle cx="298.3" cy="377.3" r="5.3" fill="#1a72e0"/>
<circle cx="308.3" cy="369.7" r="2.3" fill="#82cfbf"/>
<circle cx="189" cy="406" r="11.3" fill="#25b6ec"/>
<circle cx="190" cy="432.3" r="5.3" fill="#25b6ec"/>
<circle cx="227.7" cy="443" r="2" fill="#1a18a8"/>
<circle cx="284.3" cy="439.7" r="2" fill="#25b6ec"/>
<circle cx="307" cy="461.3" r="4" fill="#d2e6de"/>
<circle cx="479.3" cy="99" r="2.2" fill="#e3df92"/>
<circle cx="412.7" cy="122" r="3.8" fill="#82cfbf"/>
<circle cx="475.3" cy="119.3" r="3.8" fill="#82cfbf"/>
<circle cx="546.7" cy="109.3" r="4" fill="#25b6ec"/>
<circle cx="515" cy="149.3" r="3.8" fill="#d2e6de"/>
<circle cx="533.3" cy="160.7" r="11" fill="#1a72e0"/>
<circle cx="566" cy="162.3" r="3.7" fill="#d2e6de"/>
<circle cx="591" cy="162.3" r="3.8" fill="#e3df92"/>
<circle cx="610.3" cy="171" r="3.5" fill="#d2e6de"/>
<circle cx="623.9" cy="168.3" r="3.8" fill="#d2e6de"/>
<circle cx="610.3" cy="179.3" r="3.8" fill="#d2e6de"/>
<circle cx="612.7" cy="186" r="2" fill="#e3df92"/>
<circle cx="624.5" cy="186.5" r="2.1" fill="#f2f2f2"/>
<circle cx="378.7" cy="177.3" r="2" fill="#e3df92"/>
<circle cx="521" cy="181.7" r="2" fill="#e3df92"/>
<circle cx="550.3" cy="185.7" r="4" fill="#1a72e0"/>
<circle cx="563.7" cy="191" r="2.2" fill="#f2f2f2"/>
<circle cx="474.3" cy="197" r="3.8" fill="#d2e6de"/>
<circle cx="596" cy="202.3" r="5.5" fill="#1a72e0"/>
<circle cx="621.5" cy="202" r="7.3" fill="#25b6ec"/>
<circle cx="626.3" cy="208.3" r="3.8" fill="#d2e6de"/>
<circle cx="623.7" cy="215.8" r="5.5" fill="#25b6ec"/>
<circle cx="484.3" cy="218" r="3.8" fill="#e3df92"/>
<circle cx="329.3" cy="253.7" r="3.8" fill="#25b6ec"/>
<circle cx="347.7" cy="258" r="3.7" fill="#d2e6de"/>
<circle cx="330.3" cy="267" r="3" fill="#1a18a8"/>
<circle cx="336" cy="279.7" r="11" fill="#1a72e0"/>
<circle cx="339.3" cy="296.3" r="5.3" fill="#1a18a8"/>
<circle cx="340.3" cy="311.3" r="2" fill="#82cfbf"/>
<circle cx="343.7" cy="240.3" r="2" fill="#82cfbf"/>
<circle cx="453.7" cy="253.7" r="2" fill="#ead71f"/>
<circle cx="490.3" cy="247" r="5.5" fill="#25b6ec"/>
<circle cx="478.7" cy="259.3" r="3.8" fill="#25b6ec"/>
<circle cx="525.3" cy="241" r="5.5" fill="#25b6ec"/>
<circle cx="533" cy="229.7" r="2" fill="#25b6ec"/>
<circle cx="552" cy="216.3" r="4" fill="#d2e6de"/>
<circle cx="563.7" cy="227.7" r="4" fill="#25b6ec"/>
<circle cx="564.3" cy="240.3" r="3.8" fill="#25b6ec"/>
<circle cx="576" cy="218.7" r="2" fill="#f2f2f2"/>
<circle cx="584.3" cy="242" r="3.8" fill="#82cfbf"/>
<circle cx="606" cy="219.7" r="4" fill="#d2e6de"/>
<circle cx="605.3" cy="211" r="2" fill="#82cfbf"/>
<circle cx="614.3" cy="228" r="5.5" fill="#82cfbf"/>
<circle cx="626.9" cy="231.4" r="11" fill="#1a72e0"/>
<circle cx="639" cy="241.3" r="3.7" fill="#d2e6de"/>
<circle cx="628.8" cy="245" r="2.2" fill="#25b6ec"/>
<circle cx="613.1" cy="262.5" r="3.5" fill="#1a72e0"/>
<circle cx="601" cy="254.7" r="3.8" fill="#25b6ec"/>
<circle cx="622.7" cy="266.3" r="3.8" fill="#25b6ec"/>
<circle cx="632.7" cy="267" r="2" fill="#e3df92"/>
<circle cx="599.3" cy="277" r="3.5" fill="#1a72e0"/>
<circle cx="612" cy="275.3" r="2" fill="#82cfbf"/>
<circle cx="511.3" cy="281" r="2" fill="#e3df92"/>
<circle cx="482" cy="292" r="2" fill="#f2f2f2"/>
<circle cx="494.3" cy="298.7" r="3.8" fill="#25b6ec"/>
<circle cx="503" cy="302.7" r="2" fill="#e3df92"/>
<circle cx="517.7" cy="301" r="9.3" fill="#25b6ec"/>
<circle cx="555.3" cy="298" r="3.8" fill="#25b6ec"/>
<circle cx="561.7" cy="306" r="2" fill="#82cfbf"/>
<circle cx="589.3" cy="302.7" r="9.3" fill="#25b6ec"/>
<circle cx="465.3" cy="331" r="5.5" fill="#82cfbf"/>
<circle cx="541" cy="336.3" r="3.8" fill="#d2e6de"/>
<circle cx="520.3" cy="343.7" r="2" fill="#e3df92"/>
<circle cx="611.7" cy="323.7" r="2" fill="#82cfbf"/>
<circle cx="602" cy="334.7" r="2" fill="#82cfbf"/>
<circle cx="640.5" cy="318" r="3.8" fill="#82cfbf"/>
<circle cx="641.3" cy="342" r="3.8" fill="#d2e6de"/>
<circle cx="487.7" cy="362.3" r="5.5" fill="#82cfbf"/>
<circle cx="525" cy="363.3" r="3.8" fill="#82cfbf"/>
<circle cx="462.7" cy="380.3" r="7.3" fill="#25b6ec"/>
<circle cx="388.3" cy="383.7" r="3.8" fill="#82cfbf"/>
<circle cx="517" cy="386" r="3.8" fill="#d2e6de"/>
<circle cx="556.7" cy="394.7" r="5.5" fill="#25b6ec"/>
<circle cx="604.3" cy="387" r="7.5" fill="#82cfbf"/>
<circle cx="588.7" cy="372.7" r="2" fill="#82cfbf"/>
<circle cx="621" cy="372" r="2" fill="#82cfbf"/>
<circle cx="445.3" cy="401" r="2" fill="#82cfbf"/>
<circle cx="565.3" cy="410.3" r="2" fill="#82cfbf"/>
<circle cx="544.2" cy="400" r="1.6" fill="#f2f2f2"/>
<circle cx="381" cy="424" r="3.8" fill="#d2e6de"/>
<circle cx="444.3" cy="418.3" r="2" fill="#f2f2f2"/>
<circle cx="478.3" cy="422.3" r="2" fill="#82cfbf"/>
<circle cx="524.3" cy="424" r="2" fill="#e3df92"/>
<circle cx="416.7" cy="445.7" r="2" fill="#82cfbf"/>
<circle cx="459.3" cy="442.3" r="9" fill="#82cfbf"/>
<circle cx="479.3" cy="439" r="11" fill="#25b6ec"/>
<circle cx="504.3" cy="450.7" r="3.8" fill="#82cfbf"/>
<circle cx="512.7" cy="450.7" r="3.8" fill="#d2e6de"/>
<circle cx="535" cy="447.3" r="3.8" fill="#82cfbf"/>
<circle cx="561" cy="442.3" r="2" fill="#82cfbf"/>
<circle cx="601" cy="448.3" r="3.8" fill="#25b6ec"/>
<circle cx="365.3" cy="457.3" r="3.8" fill="#ead71f"/>
<circle cx="376" cy="454" r="3.8" fill="#d2e6de"/>
<circle cx="400.3" cy="471.7" r="2" fill="#e3df92"/>
<circle cx="455.3" cy="475" r="3.8" fill="#25b6ec"/>
<circle cx="469.7" cy="472.3" r="3.8" fill="#e3df92"/>
<circle cx="481" cy="487.3" r="3.8" fill="#1a72e0"/>
<circle cx="458.7" cy="498" r="9.3" fill="#1a72e0"/>
<circle cx="439.3" cy="516.3" r="9.5" fill="#82cfbf"/>
<circle cx="503.7" cy="509.7" r="11" fill="#25b6ec"/>
<circle cx="527.7" cy="505" r="3.8" fill="#d2e6de"/>
<circle cx="544.3" cy="504" r="3.8" fill="#d2e6de"/>
<circle cx="568.3" cy="504" r="3.8" fill="#d2e6de"/>
<circle cx="585.6" cy="489.3" r="5.5" fill="#82cfbf"/>
<circle cx="599.3" cy="487.4" r="2" fill="#ead71f"/>
<circle cx="614.4" cy="504.7" r="5.5" fill="#82cfbf"/>
<circle cx="596.2" cy="514.8" r="3.8" fill="#d2e6de"/>
<circle cx="627.3" cy="490.2" r="3.8" fill="#82cfbf"/>
<circle cx="557.7" cy="473.3" r="2" fill="#82cfbf"/>
<circle cx="621.3" cy="473.2" r="2" fill="#e3df92"/>
<circle cx="466.7" cy="533" r="2" fill="#f2f2f2"/>
<circle cx="462.3" cy="551.7" r="3.8" fill="#d2e6de"/>
<circle cx="427" cy="556.3" r="3.8" fill="#e3df92"/>
<circle cx="446" cy="585" r="3.8" fill="#82cfbf"/>
<circle cx="461" cy="590.7" r="3.8" fill="#82cfbf"/>
<circle cx="642.5" cy="482.8" r="3.8" fill="#82cfbf"/>
<circle cx="651.2" cy="482.8" r="2.3" fill="#ead71f"/>
<circle cx="663" cy="482" r="3.8" fill="#82cfbf"/>
<circle cx="678.3" cy="480.8" r="3.8" fill="#82cfbf"/>
<circle cx="696.3" cy="490.8" r="3.8" fill="#d2e6de"/>
<circle cx="718.7" cy="482" r="3.8" fill="#1a72e0"/>
<circle cx="692" cy="468" r="2.3" fill="#f2f2f2"/>
<circle cx="650.8" cy="195" r="2.2" fill="#f2f2f2"/>
<circle cx="658.3" cy="200" r="5.5" fill="#82cfbf"/>
<circle cx="656.3" cy="216.4" r="3.8" fill="#82cfbf"/>
<circle cx="659.2" cy="224.2" r="3.8" fill="#d2e6de"/>
<circle cx="646.7" cy="233.5" r="2.2" fill="#e3df92"/>
<circle cx="661.3" cy="231" r="3.7" fill="#f0911c"/>
<circle cx="674.2" cy="215" r="2.2" fill="#25b6ec"/>
<circle cx="683.3" cy="213.8" r="2.2" fill="#25b6ec"/>
<circle cx="679.5" cy="203.3" r="4" fill="#25b6ec"/>
<circle cx="680.3" cy="182.2" r="2.2" fill="#82cfbf"/>
<circle cx="687" cy="179.7" r="2.2" fill="#f2f2f2"/>
<circle cx="686.7" cy="188.3" r="3.8" fill="#82cfbf"/>
<circle cx="701.7" cy="197.5" r="11" fill="#25b6ec"/>
<circle cx="693.3" cy="212.2" r="3.5" fill="#1a18a8"/>
<circle cx="702.5" cy="210.5" r="7" fill="#1a72e0"/>
<circle cx="700.2" cy="219.6" r="2.2" fill="#f2f2f2"/>
<circle cx="697.8" cy="228.3" r="5.5" fill="#82cfbf"/>
<circle cx="727" cy="227" r="9.3" fill="#25b6ec"/>
<circle cx="739.2" cy="231" r="5.5" fill="#25b6ec"/>
<circle cx="747.1" cy="229" r="3.8" fill="#d2e6de"/>
<circle cx="755.8" cy="206.3" r="3.9" fill="#82cfbf"/>
<circle cx="775" cy="181" r="7.3" fill="#25b6ec"/>
<circle cx="798" cy="226.5" r="2" fill="#f2f2f2"/>
<circle cx="673.8" cy="243.7" r="3.8" fill="#d2e6de"/>
<circle cx="693" cy="246.8" r="2.2" fill="#f2f2f2"/>
<circle cx="719.7" cy="243.2" r="2.3" fill="#d2e6de"/>
<circle cx="741.3" cy="241" r="3.8" fill="#82cfbf"/>
<circle cx="751.7" cy="246.8" r="2.3" fill="#d2e6de"/>
<circle cx="766.3" cy="243.7" r="9.3" fill="#25b6ec"/>
<circle cx="785" cy="239" r="2" fill="#82cfbf"/>
<circle cx="790.8" cy="238.5" r="2.2" fill="#f2f2f2"/>
<circle cx="659.7" cy="257.3" r="2.3" fill="#f2f2f2"/>
<circle cx="645.8" cy="261" r="3.8" fill="#e3df92"/>
<circle cx="672.8" cy="261.8" r="2.3" fill="#82cfbf"/>
<circle cx="660" cy="273.7" r="9.3" fill="#25b6ec"/>
<circle cx="692.5" cy="267" r="5.5" fill="#1a72e0"/>
<circle cx="700.8" cy="265.7" r="2.3" fill="#e3df92"/>
<circle cx="717" cy="262.3" r="9.3" fill="#1a72e0"/>
<circle cx="750" cy="256" r="2.3" fill="#82cfbf"/>
<circle cx="771.7" cy="264" r="2.3" fill="#1a72e0"/>
<circle cx="787.5" cy="259.8" r="2.3" fill="#82cfbf"/>
<circle cx="794.2" cy="265.3" r="2.3" fill="#d2e6de"/>
<circle cx="692.5" cy="286" r="9.5" fill="#25b6ec"/>
<circle cx="666.7" cy="286" r="2.3" fill="#ead71f"/>
<circle cx="656.2" cy="287.7" r="2.3" fill="#82cfbf"/>
<circle cx="640.8" cy="284" r="2.3" fill="#f2f2f2"/>
<circle cx="743" cy="277.3" r="2.3" fill="#e3df92"/>
<circle cx="730" cy="296.8" r="4" fill="#82cfbf"/>
<circle cx="745.8" cy="297" r="4" fill="#82cfbf"/>
<circle cx="752.8" cy="304.3" r="2.3" fill="#f2f2f2"/>
<circle cx="790.5" cy="284" r="2.3" fill="#ead71f"/>
<circle cx="787.8" cy="292.7" r="2.3" fill="#e3df92"/>
<circle cx="797.5" cy="297.3" r="3.8" fill="#1a18a8"/>
<circle cx="788.8" cy="310.7" r="3.8" fill="#25b6ec"/>
<circle cx="775.8" cy="315.7" r="4" fill="#82cfbf"/>
<circle cx="767" cy="320.2" r="2.3" fill="#82cfbf"/>
<circle cx="672.8" cy="305.2" r="7.3" fill="#82cfbf"/>
<circle cx="694.7" cy="308.2" r="5.5" fill="#82cfbf"/>
<circle cx="649.7" cy="322.7" r="2.3" fill="#e3df92"/>
<circle cx="668.7" cy="319" r="2" fill="#f2f2f2"/>
<circle cx="793.3" cy="175" r="7" fill="#1a72e0"/>
<circle cx="816.4" cy="169.7" r="5.7" fill="#82cfbf"/>
<circle cx="813.1" cy="152.2" r="2.3" fill="#f2f2f2"/>
<circle cx="829.2" cy="166.7" r="3.8" fill="#25b6ec"/>
<circle cx="852.8" cy="171.1" r="5.5" fill="#1a72e0"/>
<circle cx="855" cy="127.3" r="3.8" fill="#25b6ec"/>
<circle cx="852.8" cy="153.8" r="2.2" fill="#f2f2f2"/>
<circle cx="813.5" cy="187.8" r="2.2" fill="#1a72e0"/>
<circle cx="822.3" cy="192.4" r="3.9" fill="#82cfbf"/>
<circle cx="810.4" cy="195.8" r="2.2" fill="#f2f2f2"/>
<circle cx="852.5" cy="192.3" r="2.2" fill="#d2e6de"/>
<circle cx="867" cy="177.6" r="2.2" fill="#25b6ec"/>
<circle cx="862" cy="194.8" r="3.9" fill="#25b6ec"/>
<circle cx="828.4" cy="210.8" r="3.8" fill="#d2e6de"/>
<circle cx="904.5" cy="125.5" r="2.2" fill="#f2f2f2"/>
<circle cx="904.2" cy="138" r="3.8" fill="#25b6ec"/>
<circle cx="902" cy="151.8" r="4" fill="#25b6ec"/>
<circle cx="891.5" cy="157.2" r="3.8" fill="#25b6ec"/>
<circle cx="899.2" cy="157.2" r="3" fill="#d2e6de"/>
<circle cx="901.5" cy="169.7" r="12.5" fill="#1a18a8"/>
<circle cx="887.8" cy="175.3" r="5.3" fill="#25b6ec"/>
<circle cx="916.8" cy="180.8" r="3.9" fill="#25b6ec"/>
<circle cx="901.5" cy="185.5" r="8.2" fill="#25b6ec"/>
<circle cx="892.6" cy="193.5" r="4" fill="#1a72e0"/>
<circle cx="877" cy="182.4" r="5" fill="#1a72e0"/>
<circle cx="880.2" cy="189" r="7.7" fill="#1a72e0"/>
<circle cx="876.5" cy="196.8" r="5.6" fill="#1a72e0"/>
<circle cx="870.7" cy="203" r="7.2" fill="#1a18a8"/>
<circle cx="882.6" cy="208.8" r="10" fill="#25b6ec"/>
<circle cx="855.2" cy="215.8" r="9.2" fill="#1a72e0"/>
<circle cx="862" cy="229.8" r="12.7" fill="#1a18a8"/>
<circle cx="839" cy="214.8" r="2.2" fill="#e3df92"/>
<circle cx="820.6" cy="219" r="2.2" fill="#82cfbf"/>
<circle cx="807.7" cy="214.3" r="2.3" fill="#e3df92"/>
<circle cx="919.5" cy="88" r="2" fill="#82cfbf"/>
<circle cx="840" cy="222.5" r="5.5" fill="#82cfbf"/>
<circle cx="840.6" cy="230" r="7" fill="#1a72e0"/>
<circle cx="830.6" cy="230.6" r="3.5" fill="#82cfbf"/>
<circle cx="844.7" cy="240.5" r="9.3" fill="#1a18a8"/>
<circle cx="813" cy="237.8" r="5.5" fill="#25b6ec"/>
<circle cx="823.8" cy="234.2" r="2.2" fill="#e3df92"/>
<circle cx="828.6" cy="240.6" r="3.8" fill="#d2e6de"/>
<circle cx="821.2" cy="245.1" r="3.8" fill="#d2e6de"/>
<circle cx="812.9" cy="248" r="2.3" fill="#ead71f"/>
<circle cx="840.7" cy="250.4" r="5" fill="#1a72e0"/>
<circle cx="855.6" cy="243.1" r="4" fill="#25b6ec"/>
<circle cx="859.3" cy="247.6" r="4" fill="#82cfbf"/>
<circle cx="851" cy="252.5" r="2.7" fill="#82cfbf"/>
<circle cx="857" cy="257.2" r="2.3" fill="#ead71f"/>
<circle cx="845.7" cy="259.3" r="2.3" fill="#f2f2f2"/>
<circle cx="803.7" cy="248.5" r="2.3" fill="#e3df92"/>
<circle cx="802.5" cy="257.7" r="4" fill="#25b6ec"/>
<circle cx="826.7" cy="256" r="9.5" fill="#1a18a8"/>
<circle cx="814.2" cy="274.3" r="11.5" fill="#1a18a8"/>
<circle cx="849.5" cy="274.7" r="3.8" fill="#82cfbf"/>
<circle cx="832.5" cy="282.7" r="2.3" fill="#1a18a8"/>
<circle cx="819.2" cy="302.7" r="7.2" fill="#25b6ec"/>
<circle cx="841.3" cy="312.3" r="7.5" fill="#25b6ec"/>
<circle cx="820" cy="336.5" r="2.2" fill="#f2f2f2"/>
<circle cx="808.3" cy="345.2" r="7.3" fill="#1a72e0"/>
<circle cx="829.2" cy="344" r="2.3" fill="#25b6ec"/>
<circle cx="818.8" cy="351.8" r="2.3" fill="#e3df92"/>
<circle cx="838" cy="354.3" r="2.3" fill="#82cfbf"/>
<circle cx="797.3" cy="341.5" r="4.5" fill="#1a18a8"/>
<circle cx="663" cy="336" r="2.3" fill="#e3df92"/>
<circle cx="659.2" cy="357.8" r="7.5" fill="#25b6ec"/>
<circle cx="735" cy="337" r="4" fill="#82cfbf"/>
<circle cx="737.8" cy="345" r="2.3" fill="#25b6ec"/>
<circle cx="706.2" cy="353.8" r="5.7" fill="#25b6ec"/>
<circle cx="719.2" cy="350.8" r="2.3" fill="#ead71f"/>
<circle cx="732.5" cy="357.8" r="4" fill="#82cfbf"/>
<circle cx="755.3" cy="352.5" r="3.8" fill="#d2e6de"/>
<circle cx="774.2" cy="343.3" r="4" fill="#82cfbf"/>
<circle cx="784.2" cy="342.5" r="5.7" fill="#d2e6de"/>
<circle cx="790.8" cy="340.8" r="2" fill="#e3df92"/>
<circle cx="767.9" cy="364.5" r="9.3" fill="#25b6ec"/>
<circle cx="751.3" cy="375.3" r="3.8" fill="#f2f2f2"/>
<circle cx="741.3" cy="380.3" r="5.7" fill="#82cfbf"/>
<circle cx="768.4" cy="390" r="5.7" fill="#82cfbf"/>
<circle cx="791" cy="384.7" r="3.8" fill="#25b6ec"/>
<circle cx="781.3" cy="392" r="2.3" fill="#e3df92"/>
<circle cx="791.4" cy="411.2" r="5.7" fill="#25b6ec"/>
<circle cx="754.7" cy="406.7" r="3.8" fill="#25b6ec"/>
<circle cx="686.7" cy="378.8" r="3.8" fill="#82cfbf"/>
<circle cx="698.7" cy="375.8" r="2.3" fill="#e3df92"/>
<circle cx="696.7" cy="383.7" r="2.3" fill="#f0911c"/>
<circle cx="661.7" cy="387.2" r="5.7" fill="#1a18a8"/>
<circle cx="643.7" cy="388.7" r="2.3" fill="#e3df92"/>
<circle cx="655.8" cy="394.7" r="2.3" fill="#f2f2f2"/>
<circle cx="691.2" cy="396.7" r="2.3" fill="#25b6ec"/>
<circle cx="716.7" cy="392.5" r="3.8" fill="#f2f2f2"/>
<circle cx="729.2" cy="398.7" r="3.8" fill="#25b6ec"/>
<circle cx="707.5" cy="407.5" r="11" fill="#1a72e0"/>
<circle cx="676.3" cy="402.8" r="2.3" fill="#e3df92"/>
<circle cx="680.8" cy="408.7" r="2.3" fill="#e3df92"/>
<circle cx="663.3" cy="417.2" r="5.7" fill="#25b6ec"/>
<circle cx="641.3" cy="422.5" r="2.3" fill="#f2f2f2"/>
<circle cx="722.8" cy="423.3" r="3.8" fill="#25b6ec"/>
<circle cx="725.8" cy="435" r="2.3" fill="#1a72e0"/>
<circle cx="693" cy="434.2" r="2.3" fill="#f2f2f2"/>
<circle cx="701.7" cy="436.7" r="3.8" fill="#25b6ec"/>
<circle cx="673.3" cy="441.7" r="3.8" fill="#82cfbf"/>
<circle cx="779" cy="427.5" r="2.3" fill="#e3df92"/>
<circle cx="771.4" cy="435.2" r="3.8" fill="#d2e6de"/>
<circle cx="766.7" cy="443.3" r="2.3" fill="#1a72e0"/>
<circle cx="718" cy="452.6" r="2.3" fill="#82cfbf"/>
<circle cx="771.8" cy="453.3" r="2" fill="#82cfbf"/>
<circle cx="803" cy="361.7" r="3.8" fill="#25b6ec"/>
<circle cx="832.5" cy="364.5" r="2.3" fill="#ead71f"/>
<circle cx="825.3" cy="372" r="3.8" fill="#82cfbf"/>
<circle cx="807.5" cy="388" r="3.8" fill="#e3df92"/>
<circle cx="768.8" cy="478.7" r="7.5" fill="#82cfbf"/>
<circle cx="738" cy="469.2" r="2.3" fill="#f2f2f2"/>
<circle cx="756.3" cy="492.8" r="3.8" fill="#1a18a8"/>
<circle cx="766.3" cy="502.2" r="3.8" fill="#e3df92"/>
<circle cx="783.3" cy="500.5" r="3.8" fill="#d2e6de"/>
<circle cx="758" cy="512" r="2.3" fill="#e3df92"/>
<circle cx="767.5" cy="513.7" r="2.3" fill="#ead71f"/>
<circle cx="782.2" cy="517.8" r="9.5" fill="#82cfbf"/>
<circle cx="796.3" cy="518.7" r="3.8" fill="#1a72e0"/>
<circle cx="761.7" cy="527.2" r="9.5" fill="#25b6ec"/>
<circle cx="777.2" cy="529.5" r="3.8" fill="#d2e6de"/>
<circle cx="800.8" cy="531.7" r="2.3" fill="#e3df92"/>
<circle cx="786.7" cy="541.7" r="2.3" fill="#e3df92"/>
<circle cx="766.3" cy="544.7" r="5.7" fill="#d2e6de"/>
<circle cx="805.3" cy="541.3" r="3.8" fill="#d2e6de"/>
<circle cx="775.8" cy="553.7" r="2.3" fill="#e3df92"/>
<circle cx="777.5" cy="560.5" r="3.8" fill="#d2e6de"/>
<circle cx="807.5" cy="553.8" r="7.5" fill="#25b6ec"/>
<circle cx="790" cy="569.2" r="3.8" fill="#e3df92"/>
<circle cx="808.3" cy="565" r="7" fill="#82cfbf"/>
<circle cx="809.5" cy="576.7" r="9.3" fill="#82cfbf"/>
</g>
<g id="labels">
<text class="st" x="81" y="69.2" textLength="69" lengthAdjust="spacing">WASHINGTON</text>
<text class="st" x="68.8" y="142.2" textLength="43.7" lengthAdjust="spacing">OREGON</text>
<text class="st" x="166" y="144.4" textLength="32.8" lengthAdjust="spacing">IDAHO</text>
<text class="st" x="258" y="117.1" textLength="51" lengthAdjust="spacing">MONTANA</text>
<text class="st" x="274" y="200.4" textLength="52" lengthAdjust="spacing">WYOMING</text>
<text class="st" x="380" y="105.9" textLength="81" lengthAdjust="spacing">NORTH DAKOTA</text>
<text class="st" x="381" y="184.4" textLength="81.5" lengthAdjust="spacing">SOUTH DAKOTA</text>
<text class="st" x="484" y="137.7" textLength="59.7" lengthAdjust="spacing">MINNESOTA</text>
<text class="st" x="556" y="172.4" textLength="58" lengthAdjust="spacing">WISCONSIN</text>
<text class="st" x="402.5" y="248.4" textLength="56.3" lengthAdjust="spacing">NEBRASKA</text>
<text class="st" x="428.8" y="313.9" textLength="42.2" lengthAdjust="spacing">KANSAS</text>
<text class="st" x="271.7" y="294.9" textLength="58.3" lengthAdjust="spacing">COLORADO</text>
<text class="st" x="497.7" y="233.7" textLength="26.6" lengthAdjust="spacing">IOWA</text>
<text class="st" x="111" y="257.4" textLength="40" lengthAdjust="spacing">NEVADA</text>
<text class="st" x="208.8" y="274.4" textLength="25" lengthAdjust="spacing">UTAH</text>
<text class="st" x="41" y="308.9" textLength="61.5" lengthAdjust="spacing">CALIFORNIA</text>
<text class="st" x="178.8" y="386.4" textLength="45.7" lengthAdjust="spacing">ARIZONA</text>
<text class="st" x="271.7" y="398.9" textLength="65.8" lengthAdjust="spacing">NEW MEXICO</text>
<text class="st" x="405" y="473.4" textLength="32" lengthAdjust="spacing">TEXAS</text>
<text class="st" x="438.8" y="389.2" textLength="58.7" lengthAdjust="spacing">OKLAHOMA</text>
<text class="st" x="527.5" y="320.4" textLength="50" lengthAdjust="spacing">MISSOURI</text>
<text class="st" x="583.8" y="263.9" textLength="43.2" lengthAdjust="spacing">ILLINOIS</text>
<text class="st" x="639.5" y="282.4" textLength="41.5" lengthAdjust="spacing">INDIANA</text>
<text class="st" x="687" y="258.4" textLength="25" lengthAdjust="spacing">OHIO</text>
<text class="st" x="665" y="326.4" textLength="55" lengthAdjust="spacing">KENTUCKY</text>
<text class="st" x="628.8" y="366.4" textLength="61.2" lengthAdjust="spacing">TENNESSEE</text>
<text class="st" x="523.8" y="403.9" textLength="57" lengthAdjust="spacing">ARKANSAS</text>
<text class="st" x="546" y="501.4" textLength="55" lengthAdjust="spacing">LOUISIANA</text>
<text class="st" x="638.8" y="428.4" textLength="50" lengthAdjust="spacing">ALABAMA</text>
<text class="st" x="707.5" y="428.9" textLength="47.5" lengthAdjust="spacing">GEORGIA</text>
<text class="st" x="782" y="309.9" textLength="43.8" lengthAdjust="spacing">VIRGINIA</text>
<text class="st" x="791.7" y="183.4" textLength="55.8" lengthAdjust="spacing">NEW YORK</text>
<text class="st" x="900" y="98.7" textLength="32" lengthAdjust="spacing">MAINE</text>
<text x="400" y="273.4" font-size="12px" fill="#98989a" textLength="60" lengthAdjust="spacing">UNITED</text>
<text x="404" y="287" font-size="12px" fill="#98989a" textLength="58.5" lengthAdjust="spacing">STATES</text>
<text class="ct" x="92.5" y="44.6" textLength="21.5" lengthAdjust="spacingAndGlyphs">Seattle</text>
<text class="ct" x="80" y="55.1" textLength="26.7" lengthAdjust="spacingAndGlyphs">Olympia</text>
<text class="ct" x="75" y="88.4" textLength="25.8" lengthAdjust="spacingAndGlyphs">Portland</text>
<text class="ct" x="65.8" y="99.3" textLength="20" lengthAdjust="spacingAndGlyphs">Salem</text>
<text class="ct" x="243.8" y="102.6" textLength="22.2" lengthAdjust="spacingAndGlyphs">Helena</text>
<text class="ct" x="165" y="155.6" textLength="17.5" lengthAdjust="spacingAndGlyphs">Boise</text>
<text class="ct" x="418.8" y="116.6" textLength="30" lengthAdjust="spacingAndGlyphs">Bismarck</text>
<text class="ct" x="422.5" y="172.1" textLength="18.5" lengthAdjust="spacingAndGlyphs">Pierre</text>
<text class="ct" x="501" y="159.3" textLength="36.7" lengthAdjust="spacingAndGlyphs">Minneapolis</text>
<text class="ct" x="541" y="159.3" textLength="32" lengthAdjust="spacingAndGlyphs">Saint Paul</text>
<text class="ct" x="602.5" y="199.6" textLength="26.3" lengthAdjust="spacingAndGlyphs">Madison</text>
<text class="ct" x="627.5" y="207.6" textLength="27.5" lengthAdjust="spacingAndGlyphs">Milwaukee</text>
<text class="ct" x="633.8" y="224.6" textLength="22.2" lengthAdjust="spacingAndGlyphs">Chicago</text>
<text class="ct" x="711" y="205.6" textLength="18.5" lengthAdjust="spacingAndGlyphs">Detroit</text>
<text class="ct" x="702.5" y="221.6" textLength="20" lengthAdjust="spacingAndGlyphs">Toledo</text>
<text class="ct" x="734" y="221.1" textLength="30" lengthAdjust="spacingAndGlyphs">Cleveland</text>
<text class="ct" x="533.8" y="236.1" textLength="37.2" lengthAdjust="spacingAndGlyphs">Des Moines</text>
<text class="ct" x="495" y="244.6" textLength="22.5" lengthAdjust="spacingAndGlyphs">Omaha</text>
<text class="ct" x="482" y="255.6" textLength="21.8" lengthAdjust="spacingAndGlyphs">Lincoln</text>
<text class="ct" x="343.8" y="240.6" textLength="32.2" lengthAdjust="spacingAndGlyphs">Cheyenne</text>
<text class="ct" x="317.5" y="272.4" textLength="21.3" lengthAdjust="spacingAndGlyphs">Denver</text>
<text class="ct" x="341" y="272.4" textLength="21" lengthAdjust="spacingAndGlyphs">Aurora</text>
<text class="ct" x="340" y="293.1" textLength="55" lengthAdjust="spacingAndGlyphs">Colorado Springs</text>
<text class="ct" x="503.7" y="295.6" textLength="17.3" lengthAdjust="spacingAndGlyphs">Topeka</text>
<text class="ct" x="519" y="303.9" textLength="37" lengthAdjust="spacingAndGlyphs">Kansas City</text>
<text class="ct" x="469.5" y="326.1" textLength="23" lengthAdjust="spacingAndGlyphs">Wichita</text>
<text class="ct" x="560" y="309.6" textLength="44" lengthAdjust="spacingAndGlyphs">Jefferson City</text>
<text class="ct" x="597.7" y="301.3" textLength="31.3" lengthAdjust="spacingAndGlyphs">Saint Louis</text>
<text class="ct" x="603.8" y="274.4" textLength="32.2" lengthAdjust="spacingAndGlyphs">Springfield</text>
<text class="ct" x="664.5" y="269.6" textLength="34.3" lengthAdjust="spacingAndGlyphs">Indianapolis</text>
<text class="ct" x="717.5" y="259.1" textLength="30" lengthAdjust="spacingAndGlyphs">Columbus</text>
<text class="ct" x="695" y="280.4" textLength="31" lengthAdjust="spacingAndGlyphs">Cincinnati</text>
<text class="ct" x="690" y="303.6" textLength="27.5" lengthAdjust="spacingAndGlyphs">Frankfort</text>
<text class="ct" x="747" y="291.6" textLength="33.8" lengthAdjust="spacingAndGlyphs">Charleston</text>
<text class="ct" x="661" y="353.1" textLength="27.8" lengthAdjust="spacingAndGlyphs">Nashville</text>
<text class="ct" x="765.8" y="240.6" textLength="31.2" lengthAdjust="spacingAndGlyphs">Pittsburgh</text>
<text class="ct" x="819.5" y="234.6" textLength="33.5" lengthAdjust="spacingAndGlyphs">Harrisburg</text>
<text class="ct" x="856" y="228.1" textLength="24" lengthAdjust="spacingAndGlyphs">Trenton</text>
<text class="ct" x="850" y="242.4" textLength="39" lengthAdjust="spacingAndGlyphs">Philadelphia</text>
<text class="ct" x="865" y="213.6" textLength="29.5" lengthAdjust="spacingAndGlyphs">New York</text>
<text class="ct" x="849.5" y="254.6" textLength="17" lengthAdjust="spacingAndGlyphs">Dover</text>
<text class="ct" x="815.8" y="262.4" textLength="30" lengthAdjust="spacingAndGlyphs">Annapolis</text>
<text class="ct" x="824.5" y="269.6" textLength="36.3" lengthAdjust="spacingAndGlyphs">Washington</text>
<text class="ct" x="822" y="297.4" textLength="31.8" lengthAdjust="spacingAndGlyphs">Richmond</text>
<text class="ct" x="851.5" y="307.4" textLength="45.5" lengthAdjust="spacingAndGlyphs">Virginia Beach</text>
<text class="ct" x="808" y="341.1" textLength="24.8" lengthAdjust="spacingAndGlyphs">Raleigh</text>
<text class="ct" x="767" y="360.6" textLength="32.5" lengthAdjust="spacingAndGlyphs">Charlotte</text>
<text class="ct" x="771.7" y="387.6" textLength="27.3" lengthAdjust="spacingAndGlyphs">Columbia</text>
<text class="ct" x="710.8" y="402.6" textLength="21.7" lengthAdjust="spacingAndGlyphs">Atlanta</text>
<text class="ct" x="678" y="438.1" textLength="40" lengthAdjust="spacingAndGlyphs">Montgomery</text>
<text class="ct" x="721.7" y="477.6" textLength="37.3" lengthAdjust="spacingAndGlyphs">Tallahassee</text>
<text class="ct" x="773" y="472.6" textLength="38.7" lengthAdjust="spacingAndGlyphs">Jacksonville</text>
<text class="ct" x="818" y="568.6" textLength="19.5" lengthAdjust="spacingAndGlyphs">Miami</text>
<text class="ct" x="588.8" y="487.6" textLength="40.7" lengthAdjust="spacingAndGlyphs">Baton Rouge</text>
<text class="ct" x="562.5" y="392.1" textLength="32.5" lengthAdjust="spacingAndGlyphs">Little Rock</text>
<text class="ct" x="602.5" y="380.6" textLength="28.5" lengthAdjust="spacingAndGlyphs">Memphis</text>
<text class="ct" x="466" y="376.4" textLength="46.5" lengthAdjust="spacingAndGlyphs">Oklahoma City</text>
<text class="ct" x="493.8" y="360.6" textLength="16.2" lengthAdjust="spacingAndGlyphs">Tulsa</text>
<text class="ct" x="312.5" y="361.6" textLength="27.5" lengthAdjust="spacingAndGlyphs">Santa Fe</text>
<text class="ct" x="298.8" y="374.6" textLength="40" lengthAdjust="spacingAndGlyphs">Albuquerque</text>
<text class="ct" x="292.5" y="450.1" textLength="24.5" lengthAdjust="spacingAndGlyphs">El Paso</text>
<text class="ct" x="459.5" y="494.6" textLength="19.3" lengthAdjust="spacingAndGlyphs">Austin</text>
<text class="ct" x="446" y="513.6" textLength="36.5" lengthAdjust="spacingAndGlyphs">San Antonio</text>
<text class="ct" x="506" y="506.6" textLength="25" lengthAdjust="spacingAndGlyphs">Houston</text>
<text class="ct" x="450" y="437.6" textLength="47.5" lengthAdjust="spacingAndGlyphs">Arlington Dallas</text>
<text class="ct" x="485" y="447.6" textLength="16" lengthAdjust="spacingAndGlyphs">Worth</text>
<text class="ct" x="210" y="428.4" textLength="22.5" lengthAdjust="spacingAndGlyphs">Tucson</text>
<text class="ct" x="171" y="398.4" textLength="22.8" lengthAdjust="spacingAndGlyphs">Phoenix</text>
<text class="ct" x="197.5" y="398.4" textLength="16.5" lengthAdjust="spacingAndGlyphs">Mesa</text>
<text class="ct" x="95" y="395.1" textLength="33" lengthAdjust="spacingAndGlyphs">San Diego</text>
<text class="ct" x="83.8" y="377.6" textLength="36.2" lengthAdjust="spacingAndGlyphs">Long Beach</text>
<text class="ct" x="93.8" y="367.6" textLength="26.2" lengthAdjust="spacingAndGlyphs">Anaheim</text>
<text class="ct" x="52.5" y="369.4" textLength="33.5" lengthAdjust="spacingAndGlyphs">Santa Ana</text>
<text class="ct" x="44" y="361.3" textLength="38" lengthAdjust="spacingAndGlyphs">Los Angeles</text>
<text class="ct" x="148.8" y="325.6" textLength="33.2" lengthAdjust="spacingAndGlyphs">Las Vegas</text>
<text class="ct" x="224.5" y="233.6" textLength="43" lengthAdjust="spacingAndGlyphs">Salt Lake City</text>
<text class="ct" x="51" y="246.1" textLength="38.5" lengthAdjust="spacingAndGlyphs">Sacramento</text>
<text class="ct" x="32.5" y="259.6" textLength="26.5" lengthAdjust="spacingAndGlyphs">Oakland</text>
<text class="ct" x="36.7" y="271.9" textLength="29.1" lengthAdjust="spacingAndGlyphs">San Jose</text>
<text class="ct" x="69.7" y="294.4" textLength="21.6" lengthAdjust="spacingAndGlyphs">Fresno</text>
<text class="ct" x="912.8" y="117.3" textLength="25.9" lengthAdjust="spacingAndGlyphs">Augusta</text>
<text class="ct" x="869.5" y="130.1" textLength="31.3" lengthAdjust="spacingAndGlyphs">Montpelier</text>
<text class="ct" x="892" y="148.1" textLength="26" lengthAdjust="spacingAndGlyphs">Concord</text>
<text class="ct" x="904.5" y="165.1" textLength="22" lengthAdjust="spacingAndGlyphs">Boston</text>
<text class="ct" x="860" y="169.6" textLength="20" lengthAdjust="spacingAndGlyphs">Albany</text>
<text x="589" y="608.5" font-size="9px" font-style="italic" fill="#676a70" letter-spacing="1px">Gulf of</text>
<text x="590" y="621.2" font-size="9px" font-style="italic" fill="#676a70" letter-spacing="1px">Mexico</text>
</g>
</g></g>
<rect x="0" y="0" width="962" height="1.6" fill="#1a3348" opacity=".7"/>
<rect x="0" y="0" width="1.2" height="621" fill="#1a3348"/><rect x="1.2" y="0" width="1.2" height="621" fill="#1a3348" opacity=".55"/>
<rect x="960.8" y="0" width="1.2" height="621" fill="#1a3348"/><rect x="959.6" y="0" width="1.2" height="621" fill="#1a3348" opacity=".55"/>
<rect x="0" y="619.5" width="962" height="46.1" fill="#1f3a5c"/>
<rect x="0.9" y="621.8" width="960" height="42.3" fill="#fff"/>
<text x="120.8" y="651.2" font-size="19.35px" class="b" fill="#111" textLength="746" lengthAdjust="spacingAndGlyphs">Share of Wages Facing Automation Risk by 2035, by Metropolitan Statistical Area</text>
<rect x="0" y="665.6" width="962" height="78" fill="#fff"/>
<rect x="0" y="740.6" width="962" height="2.4" fill="#46658d"/>
<rect x="189.9" y="665" width="1.3" height="77" fill="#1a2c4e"/>
<rect x="636.1" y="665" width="1.3" height="77" fill="#1a2c4e"/>
<rect x="960.1" y="665" width="1.1" height="77" fill="#1f3a5c"/>
<rect x="57.3" y="681.4" width="98.9" height="56.6" fill="#f5f4f2"/>
<text x="62.9" y="696.9" font-size="16.2px" class="b" fill="#111" text-anchor="middle">I</text>
<text x="78.1" y="696.9" font-size="16.2px" class="b" fill="#111" text-anchor="middle">S</text>
<text x="95.8" y="696.9" font-size="16.2px" class="b" fill="#111" text-anchor="middle">E</text>
<text x="115.1" y="696.9" font-size="16.2px" class="b" fill="#111" text-anchor="middle">A</text>
<g fill="#151515"><rect x="60.1" y="707.9" width="22.7" height="1.1"/><rect x="62.2" y="708.2" width="2.6" height="18.5"/><rect x="60.1" y="726" width="6.7" height="1.4"/><rect x="64.8" y="717.2" width="6" height="1.2"/><path d="M70.7 708.2 L82.8 708.2 L82.8 726 L81.9 726 L81.5 722.7 L80.3 718.1 L77 714 L74.5 711.9 L73.6 714.4 L71.1 716.9 L70.7 717.3 Z"/><path d="M68.6 717.9 L71.1 717.9 L76.5 726 L81.9 726.4 L81.9 727.3 L74.9 727.1 L73.6 726 Z"/></g>
<text x="85.9" y="726.6" font-size="18.4px" font-family="Liberation Serif,serif" fill="#111" textLength="68.4" lengthAdjust="spacingAndGlyphs">Redlands</text>
<text x="86.4" y="710.6" font-size="3.4px" class="b" fill="#222" textLength="68.1" lengthAdjust="spacing">UNIVERSITY OF</text>
<text x="88.7" y="735.2" font-family="Liberation Serif,serif" fill="#222" textLength="62.3" lengthAdjust="spacingAndGlyphs" font-size="4.9px"><tspan font-size="6.4px">S</tspan>CHOOL OF <tspan font-size="6.4px">B</tspan>USINESS</text>
<text x="208.3" y="683" font-size="11px" class="b" fill="#111" textLength="140.6" lengthAdjust="spacingAndGlyphs">Expected Wage Losses (%)</text>
<rect x="207.00" y="693.8" width="29.05" height="19.1" fill="#2a24b6"/>
<rect x="235.75" y="693.8" width="29.05" height="19.1" fill="#0d6fdf"/>
<rect x="264.50" y="693.8" width="29.05" height="19.1" fill="#2ac4f6"/>
<rect x="293.25" y="693.8" width="29.05" height="19.1" fill="#8fd9c7"/>
<rect x="322.00" y="693.8" width="29.05" height="19.1" fill="#ecfdf4"/>
<rect x="350.75" y="693.8" width="29.05" height="19.1" fill="#f1f4b3"/>
<rect x="379.50" y="693.8" width="29.05" height="19.1" fill="#f6e22d"/>
<rect x="408.25" y="693.8" width="29.05" height="19.1" fill="#ff9d2b"/>
<rect x="437.00" y="693.8" width="29.05" height="19.1" fill="#fa3410"/>
<rect x="465.75" y="693.8" width="29.05" height="19.1" fill="#c8272b"/>
<text x="224.8" y="729.8" font-size="11.6px" class="b" fill="#111" textLength="18.7" lengthAdjust="spacingAndGlyphs">&lt; 40</text>
<text x="261.5" y="729.8" font-size="11.6px" class="b" fill="#111" textLength="10.4" lengthAdjust="spacingAndGlyphs">43</text>
<text x="290.3" y="729.8" font-size="11.6px" class="b" fill="#111" textLength="10.4" lengthAdjust="spacingAndGlyphs">46</text>
<text x="320.2" y="729.8" font-size="11.6px" class="b" fill="#111" textLength="10.6" lengthAdjust="spacingAndGlyphs">49</text>
<text x="345.6" y="729.8" font-size="11.6px" class="b" fill="#111" textLength="10.6" lengthAdjust="spacingAndGlyphs">52</text>
<text x="375.3" y="729.8" font-size="11.6px" class="b" fill="#111" textLength="10.6" lengthAdjust="spacingAndGlyphs">55</text>
<text x="405.7" y="729.8" font-size="11.6px" class="b" fill="#111" textLength="10.4" lengthAdjust="spacingAndGlyphs">58</text>
<text x="431.7" y="729.8" font-size="11.6px" class="b" fill="#111" textLength="9.6" lengthAdjust="spacingAndGlyphs">61</text>
<text x="454.1" y="729.8" font-size="11.6px" class="b" fill="#111" textLength="28" lengthAdjust="spacingAndGlyphs">&gt; 64%</text>
<text x="513.8" y="678.2" font-size="10.9px" class="b" fill="#111" textLength="107" lengthAdjust="spacingAndGlyphs">Total Annual Payroll,</text>
<text x="547.3" y="691.2" font-size="10.9px" class="b" fill="#111" textLength="39.7" lengthAdjust="spacingAndGlyphs">by MSA</text>
<circle cx="526.5" cy="711.7" r="11.3" fill="#fff" stroke="#111" stroke-width="1.3"/>
<circle cx="526.5" cy="713.8" r="9.2" fill="#fff" stroke="#111" stroke-width="1.3"/>
<circle cx="526.5" cy="715.8" r="7.2" fill="#fff" stroke="#111" stroke-width="1.3"/>
<circle cx="526.5" cy="717.7" r="5.3" fill="#fff" stroke="#111" stroke-width="1.3"/>
<circle cx="526.5" cy="719.4" r="3.6" fill="#fff" stroke="#111" stroke-width="1.3"/>
<circle cx="526.5" cy="721.0" r="2" fill="#fff" stroke="#111" stroke-width="1.3"/>
<path d="M526.5 700.4 H556 M529 719 H556" stroke="#111" stroke-width="1.3" fill="none"/>
<text x="560.8" y="704.4" font-size="9.5px" fill="#111" textLength="40.1" lengthAdjust="spacingAndGlyphs">= &gt; 65 Bil</text>
<text x="560.8" y="722.4" font-size="9.5px" fill="#111" textLength="43.2" lengthAdjust="spacingAndGlyphs">= &lt; 2.5 Bil</text>
<text x="659.4" y="685.8" font-size="12.05px" fill="#111" textLength="274" lengthAdjust="spacingAndGlyphs">Data Sources: Frey and Osborne (2013), BLS OES</text>
<text x="658.4" y="702.5" font-size="12.05px" fill="#111" textLength="86" lengthAdjust="spacingAndGlyphs">Map created by:</text>
<text x="658.4" y="716.2" font-size="12.05px" fill="#111" textLength="270" lengthAdjust="spacingAndGlyphs">The Institute for Spatial Economic Analysis (ISEA),</text>
<text x="658.4" y="729.3" font-size="12.05px" fill="#111" textLength="154" lengthAdjust="spacingAndGlyphs">University of Redlands, 2017</text>
</svg></body></html>
